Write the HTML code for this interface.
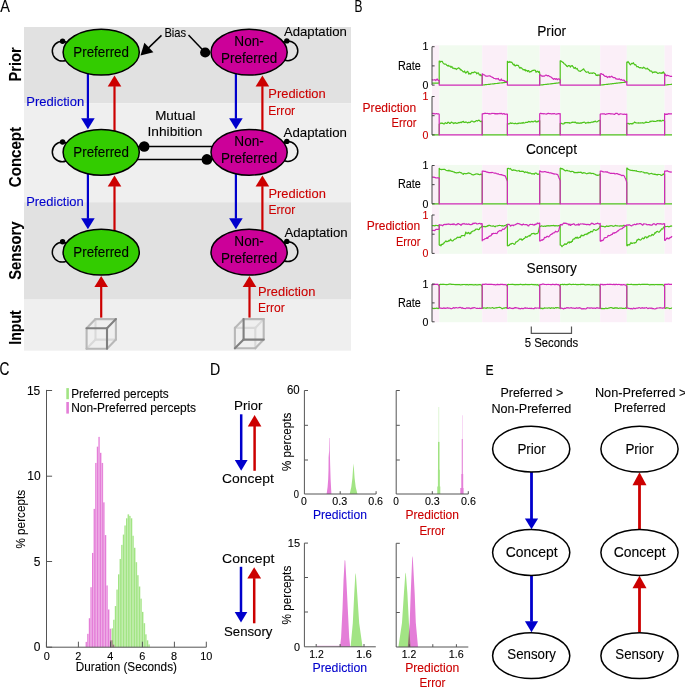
<!DOCTYPE html>
<html><head><meta charset="utf-8"><style>
html,body{margin:0;padding:0;background:#fff;overflow:hidden;}
svg{display:block;font-family:"Liberation Sans",sans-serif;}
</style></head><body>
<svg width="685" height="688" viewBox="0 0 685 688">
<rect x="24.00" y="27.00" width="327.00" height="76.20" fill="#e1e1e1"/>
<rect x="24.00" y="103.20" width="327.00" height="99.00" fill="#efefef"/>
<rect x="24.00" y="202.20" width="327.00" height="97.40" fill="#e1e1e1"/>
<rect x="24.00" y="299.60" width="327.00" height="51.10" fill="#efefef"/>
<text x="0.20" y="11.80" font-size="16.86" font-weight="normal" fill="#000" stroke="#000" stroke-width="0.1" textLength="9.66" lengthAdjust="spacingAndGlyphs">A</text>
<text transform="translate(20.90,81.50) rotate(-90)" x="0" y="0" font-size="15.71" font-weight="bold" fill="#000" stroke="#000" stroke-width="0.1" textLength="34.19" lengthAdjust="spacingAndGlyphs">Prior</text>
<text transform="translate(20.90,187.20) rotate(-90)" x="0" y="0" font-size="15.71" font-weight="bold" fill="#000" stroke="#000" stroke-width="0.1" textLength="60.30" lengthAdjust="spacingAndGlyphs">Concept</text>
<text transform="translate(20.90,279.80) rotate(-90)" x="0" y="0" font-size="15.71" font-weight="bold" fill="#000" stroke="#000" stroke-width="0.1" textLength="58.42" lengthAdjust="spacingAndGlyphs">Sensory</text>
<text transform="translate(20.80,344.80) rotate(-90)" x="0" y="0" font-size="15.71" font-weight="bold" fill="#000" stroke="#000" stroke-width="0.1" textLength="34.58" lengthAdjust="spacingAndGlyphs">Input</text>
<line x1="130.00" y1="146.50" x2="215.00" y2="146.50" stroke="#000" stroke-width="1.5" />
<line x1="130.00" y1="159.40" x2="215.00" y2="159.40" stroke="#000" stroke-width="1.5" />
<line x1="87.90" y1="70.00" x2="87.90" y2="118.70" stroke="#0000cc" stroke-width="2.2" />
<polygon points="81.10,118.20 94.70,118.20 87.90,129.20" fill="#0000cc"/>
<line x1="235.90" y1="70.00" x2="235.90" y2="118.70" stroke="#0000cc" stroke-width="2.2" />
<polygon points="229.10,118.20 242.70,118.20 235.90,129.20" fill="#0000cc"/>
<line x1="114.50" y1="132.00" x2="114.50" y2="86.10" stroke="#cc0000" stroke-width="2.2" />
<polygon points="107.70,86.60 121.30,86.60 114.50,75.60" fill="#cc0000"/>
<line x1="262.40" y1="132.00" x2="262.40" y2="86.10" stroke="#cc0000" stroke-width="2.2" />
<polygon points="255.60,86.60 269.20,86.60 262.40,75.60" fill="#cc0000"/>
<line x1="87.90" y1="170.00" x2="87.90" y2="218.70" stroke="#0000cc" stroke-width="2.2" />
<polygon points="81.10,218.20 94.70,218.20 87.90,229.20" fill="#0000cc"/>
<line x1="235.90" y1="170.00" x2="235.90" y2="218.70" stroke="#0000cc" stroke-width="2.2" />
<polygon points="229.10,218.20 242.70,218.20 235.90,229.20" fill="#0000cc"/>
<line x1="114.50" y1="232.00" x2="114.50" y2="186.10" stroke="#cc0000" stroke-width="2.2" />
<polygon points="107.70,186.60 121.30,186.60 114.50,175.60" fill="#cc0000"/>
<line x1="262.40" y1="232.00" x2="262.40" y2="186.10" stroke="#cc0000" stroke-width="2.2" />
<polygon points="255.60,186.60 269.20,186.60 262.40,175.60" fill="#cc0000"/>
<line x1="101.20" y1="317.60" x2="101.20" y2="286.40" stroke="#cc0000" stroke-width="2.2" />
<polygon points="94.40,286.90 108.00,286.90 101.20,275.90" fill="#cc0000"/>
<line x1="249.50" y1="317.60" x2="249.50" y2="286.40" stroke="#cc0000" stroke-width="2.2" />
<polygon points="242.70,286.90 256.30,286.90 249.50,275.90" fill="#cc0000"/>
<circle cx="62.2" cy="51.10" r="9.9" fill="none" stroke="#000" stroke-width="1.5"/>
<circle cx="287.9" cy="50.80" r="9.9" fill="none" stroke="#000" stroke-width="1.5"/>
<circle cx="62.2" cy="151.90" r="9.9" fill="none" stroke="#000" stroke-width="1.5"/>
<circle cx="287.9" cy="151.50" r="9.9" fill="none" stroke="#000" stroke-width="1.5"/>
<circle cx="62.2" cy="252.20" r="9.9" fill="none" stroke="#000" stroke-width="1.5"/>
<circle cx="287.9" cy="251.70" r="9.9" fill="none" stroke="#000" stroke-width="1.5"/>
<ellipse cx="101.20" cy="52.20" rx="38.10" ry="22.90" fill="#33cc00" stroke="#000" stroke-width="1.5"/>
<ellipse cx="249.10" cy="52.20" rx="38.10" ry="22.90" fill="#cc0099" stroke="#000" stroke-width="1.5"/>
<ellipse cx="101.20" cy="152.30" rx="38.10" ry="22.90" fill="#33cc00" stroke="#000" stroke-width="1.5"/>
<ellipse cx="249.10" cy="152.30" rx="38.10" ry="22.90" fill="#cc0099" stroke="#000" stroke-width="1.5"/>
<ellipse cx="101.20" cy="252.20" rx="38.10" ry="22.90" fill="#33cc00" stroke="#000" stroke-width="1.5"/>
<ellipse cx="249.10" cy="252.20" rx="38.10" ry="22.90" fill="#cc0099" stroke="#000" stroke-width="1.5"/>
<circle cx="62.60" cy="41.20" r="2.70" fill="#000" stroke="none" stroke-width="0"/>
<circle cx="286.80" cy="40.90" r="2.70" fill="#000" stroke="none" stroke-width="0"/>
<circle cx="62.60" cy="142.00" r="2.70" fill="#000" stroke="none" stroke-width="0"/>
<circle cx="286.80" cy="141.40" r="2.70" fill="#000" stroke="none" stroke-width="0"/>
<circle cx="62.60" cy="241.70" r="2.70" fill="#000" stroke="none" stroke-width="0"/>
<circle cx="286.80" cy="241.40" r="2.70" fill="#000" stroke="none" stroke-width="0"/>
<circle cx="144.20" cy="146.50" r="5.30" fill="#000" stroke="none" stroke-width="0"/>
<circle cx="206.90" cy="159.40" r="5.30" fill="#000" stroke="none" stroke-width="0"/>
<text x="164.40" y="36.70" font-size="12.57" font-weight="normal" fill="#000" stroke="#000" stroke-width="0.1" textLength="21.80" lengthAdjust="spacingAndGlyphs">Bias</text>
<line x1="161.50" y1="35.40" x2="148.00" y2="48.40" stroke="#000" stroke-width="1.5" />
<polygon points="140.5,55.5 144.4,42.8 153.4,52.2" fill="#000"/>
<line x1="188.50" y1="35.10" x2="205.20" y2="52.50" stroke="#000" stroke-width="1.5" />
<circle cx="205.20" cy="52.50" r="5.10" fill="#000" stroke="none" stroke-width="0"/>
<text x="73.30" y="56.70" font-size="14.29" font-weight="normal" fill="#000" stroke="#000" stroke-width="0.1" textLength="55.68" lengthAdjust="spacingAndGlyphs">Preferred</text>
<text x="234.30" y="46.00" font-size="14.29" font-weight="normal" fill="#000" stroke="#000" stroke-width="0.1" textLength="29.57" lengthAdjust="spacingAndGlyphs">Non-</text>
<text x="221.00" y="63.10" font-size="14.29" font-weight="normal" fill="#000" stroke="#000" stroke-width="0.1" textLength="56.18" lengthAdjust="spacingAndGlyphs">Preferred</text>
<text x="73.30" y="156.70" font-size="14.29" font-weight="normal" fill="#000" stroke="#000" stroke-width="0.1" textLength="55.68" lengthAdjust="spacingAndGlyphs">Preferred</text>
<text x="234.30" y="146.00" font-size="14.29" font-weight="normal" fill="#000" stroke="#000" stroke-width="0.1" textLength="29.57" lengthAdjust="spacingAndGlyphs">Non-</text>
<text x="221.00" y="163.10" font-size="14.29" font-weight="normal" fill="#000" stroke="#000" stroke-width="0.1" textLength="56.18" lengthAdjust="spacingAndGlyphs">Preferred</text>
<text x="73.30" y="256.70" font-size="14.29" font-weight="normal" fill="#000" stroke="#000" stroke-width="0.1" textLength="55.68" lengthAdjust="spacingAndGlyphs">Preferred</text>
<text x="234.30" y="246.00" font-size="14.29" font-weight="normal" fill="#000" stroke="#000" stroke-width="0.1" textLength="29.57" lengthAdjust="spacingAndGlyphs">Non-</text>
<text x="221.00" y="263.10" font-size="14.29" font-weight="normal" fill="#000" stroke="#000" stroke-width="0.1" textLength="56.18" lengthAdjust="spacingAndGlyphs">Preferred</text>
<text x="283.90" y="36.40" font-size="12.86" font-weight="normal" fill="#000" stroke="#000" stroke-width="0.1" textLength="63.02" lengthAdjust="spacingAndGlyphs">Adaptation</text>
<text x="283.60" y="137.30" font-size="13.43" font-weight="normal" fill="#000" stroke="#000" stroke-width="0.1" textLength="63.32" lengthAdjust="spacingAndGlyphs">Adaptation</text>
<text x="284.40" y="237.20" font-size="13.43" font-weight="normal" fill="#000" stroke="#000" stroke-width="0.1" textLength="63.22" lengthAdjust="spacingAndGlyphs">Adaptation</text>
<text x="155.20" y="119.50" font-size="13.00" font-weight="normal" fill="#000" stroke="#000" stroke-width="0.1" textLength="40.32" lengthAdjust="spacingAndGlyphs">Mutual</text>
<text x="147.50" y="135.70" font-size="13.00" font-weight="normal" fill="#000" stroke="#000" stroke-width="0.1" textLength="54.97" lengthAdjust="spacingAndGlyphs">Inhibition</text>
<text x="26.30" y="106.00" font-size="13.14" font-weight="normal" fill="#0000cc" stroke="#0000cc" stroke-width="0.1" textLength="57.83" lengthAdjust="spacingAndGlyphs">Prediction</text>
<text x="26.20" y="206.40" font-size="13.14" font-weight="normal" fill="#0000cc" stroke="#0000cc" stroke-width="0.1" textLength="57.53" lengthAdjust="spacingAndGlyphs">Prediction</text>
<text x="268.30" y="98.40" font-size="13.14" font-weight="normal" fill="#cc0000" stroke="#cc0000" stroke-width="0.1" textLength="57.43" lengthAdjust="spacingAndGlyphs">Prediction</text>
<text x="268.30" y="114.50" font-size="13.14" font-weight="normal" fill="#cc0000" stroke="#cc0000" stroke-width="0.1" textLength="26.83" lengthAdjust="spacingAndGlyphs">Error</text>
<text x="268.40" y="197.90" font-size="13.14" font-weight="normal" fill="#cc0000" stroke="#cc0000" stroke-width="0.1" textLength="57.43" lengthAdjust="spacingAndGlyphs">Prediction</text>
<text x="268.40" y="214.30" font-size="13.14" font-weight="normal" fill="#cc0000" stroke="#cc0000" stroke-width="0.1" textLength="26.83" lengthAdjust="spacingAndGlyphs">Error</text>
<text x="257.90" y="296.10" font-size="13.14" font-weight="normal" fill="#cc0000" stroke="#cc0000" stroke-width="0.1" textLength="57.43" lengthAdjust="spacingAndGlyphs">Prediction</text>
<text x="257.90" y="312.30" font-size="13.14" font-weight="normal" fill="#cc0000" stroke="#cc0000" stroke-width="0.1" textLength="26.83" lengthAdjust="spacingAndGlyphs">Error</text>
<line x1="95.50" y1="319.10" x2="95.50" y2="339.60" stroke="#d9d9d9" stroke-width="2.1" stroke-linecap="round"/>
<line x1="95.50" y1="339.60" x2="115.90" y2="339.60" stroke="#d9d9d9" stroke-width="2.1" stroke-linecap="round"/>
<line x1="86.60" y1="348.70" x2="95.50" y2="339.60" stroke="#d9d9d9" stroke-width="2.1" stroke-linecap="round"/>
<line x1="86.60" y1="328.20" x2="86.60" y2="348.70" stroke="#b8b8b8" stroke-width="2.1" stroke-linecap="round"/>
<line x1="86.60" y1="348.70" x2="107.00" y2="348.70" stroke="#b8b8b8" stroke-width="2.1" stroke-linecap="round"/>
<line x1="95.50" y1="319.10" x2="115.90" y2="319.10" stroke="#b8b8b8" stroke-width="2.1" stroke-linecap="round"/>
<line x1="115.90" y1="319.10" x2="115.90" y2="339.60" stroke="#b8b8b8" stroke-width="2.1" stroke-linecap="round"/>
<line x1="86.60" y1="328.20" x2="95.50" y2="319.10" stroke="#b8b8b8" stroke-width="2.1" stroke-linecap="round"/>
<line x1="107.00" y1="348.70" x2="115.90" y2="339.60" stroke="#b8b8b8" stroke-width="2.1" stroke-linecap="round"/>
<line x1="86.60" y1="328.20" x2="107.00" y2="328.20" stroke="#808080" stroke-width="2.1" stroke-linecap="round"/>
<line x1="107.00" y1="328.20" x2="107.00" y2="348.70" stroke="#808080" stroke-width="2.1" stroke-linecap="round"/>
<line x1="107.00" y1="328.20" x2="115.90" y2="319.10" stroke="#808080" stroke-width="2.1" stroke-linecap="round"/>
<line x1="234.90" y1="327.90" x2="255.30" y2="327.90" stroke="#d9d9d9" stroke-width="2.1" stroke-linecap="round"/>
<line x1="255.30" y1="327.90" x2="255.30" y2="348.30" stroke="#d9d9d9" stroke-width="2.1" stroke-linecap="round"/>
<line x1="255.30" y1="327.90" x2="263.70" y2="319.10" stroke="#d9d9d9" stroke-width="2.1" stroke-linecap="round"/>
<line x1="243.60" y1="319.10" x2="263.70" y2="319.10" stroke="#b8b8b8" stroke-width="2.1" stroke-linecap="round"/>
<line x1="263.70" y1="319.10" x2="263.70" y2="339.60" stroke="#b8b8b8" stroke-width="2.1" stroke-linecap="round"/>
<line x1="243.60" y1="319.10" x2="234.90" y2="327.90" stroke="#b8b8b8" stroke-width="2.1" stroke-linecap="round"/>
<line x1="234.90" y1="327.90" x2="234.90" y2="348.30" stroke="#b8b8b8" stroke-width="2.1" stroke-linecap="round"/>
<line x1="234.90" y1="348.30" x2="255.30" y2="348.30" stroke="#b8b8b8" stroke-width="2.1" stroke-linecap="round"/>
<line x1="255.30" y1="348.30" x2="263.70" y2="339.60" stroke="#b8b8b8" stroke-width="2.1" stroke-linecap="round"/>
<line x1="243.60" y1="319.10" x2="243.60" y2="339.60" stroke="#808080" stroke-width="2.1" stroke-linecap="round"/>
<line x1="243.60" y1="339.60" x2="263.70" y2="339.60" stroke="#808080" stroke-width="2.1" stroke-linecap="round"/>
<line x1="243.60" y1="339.60" x2="234.90" y2="348.30" stroke="#808080" stroke-width="2.1" stroke-linecap="round"/>
<text x="354.60" y="12.00" font-size="17.14" font-weight="normal" fill="#000" stroke="#000" stroke-width="0.1" textLength="7.92" lengthAdjust="spacingAndGlyphs">B</text>
<text x="537.23" y="36.00" font-size="13.71" font-weight="normal" fill="#000" stroke="#000" stroke-width="0.1" textLength="28.96" lengthAdjust="spacingAndGlyphs">Prior</text>
<text x="525.96" y="154.40" font-size="13.71" font-weight="normal" fill="#000" stroke="#000" stroke-width="0.1" textLength="51.08" lengthAdjust="spacingAndGlyphs">Concept</text>
<text x="526.53" y="272.50" font-size="13.71" font-weight="normal" fill="#000" stroke="#000" stroke-width="0.1" textLength="50.31" lengthAdjust="spacingAndGlyphs">Sensory</text>
<rect x="432.00" y="45.30" width="7.20" height="90.30" fill="#fbeff8"/>
<rect x="439.20" y="45.30" width="43.00" height="90.30" fill="#f1fbef"/>
<rect x="482.20" y="45.30" width="25.20" height="90.30" fill="#fbeff8"/>
<rect x="507.40" y="45.30" width="32.30" height="90.30" fill="#f1fbef"/>
<rect x="539.70" y="45.30" width="20.50" height="90.30" fill="#fbeff8"/>
<rect x="560.20" y="45.30" width="40.00" height="90.30" fill="#f1fbef"/>
<rect x="600.20" y="45.30" width="26.60" height="90.30" fill="#fbeff8"/>
<rect x="626.80" y="45.30" width="37.80" height="90.30" fill="#f1fbef"/>
<rect x="664.60" y="45.30" width="7.40" height="90.30" fill="#fbeff8"/>
<rect x="432.00" y="164.90" width="7.20" height="88.90" fill="#fbeff8"/>
<rect x="439.20" y="164.90" width="43.00" height="88.90" fill="#f1fbef"/>
<rect x="482.20" y="164.90" width="25.20" height="88.90" fill="#fbeff8"/>
<rect x="507.40" y="164.90" width="32.30" height="88.90" fill="#f1fbef"/>
<rect x="539.70" y="164.90" width="20.50" height="88.90" fill="#fbeff8"/>
<rect x="560.20" y="164.90" width="40.00" height="88.90" fill="#f1fbef"/>
<rect x="600.20" y="164.90" width="26.60" height="88.90" fill="#fbeff8"/>
<rect x="626.80" y="164.90" width="37.80" height="88.90" fill="#f1fbef"/>
<rect x="664.60" y="164.90" width="7.40" height="88.90" fill="#fbeff8"/>
<rect x="432.00" y="283.10" width="7.20" height="39.10" fill="#fbeff8"/>
<rect x="439.20" y="283.10" width="43.00" height="39.10" fill="#f1fbef"/>
<rect x="482.20" y="283.10" width="25.20" height="39.10" fill="#fbeff8"/>
<rect x="507.40" y="283.10" width="32.30" height="39.10" fill="#f1fbef"/>
<rect x="539.70" y="283.10" width="20.50" height="39.10" fill="#fbeff8"/>
<rect x="560.20" y="283.10" width="40.00" height="39.10" fill="#f1fbef"/>
<rect x="600.20" y="283.10" width="26.60" height="39.10" fill="#fbeff8"/>
<rect x="626.80" y="283.10" width="37.80" height="39.10" fill="#f1fbef"/>
<rect x="664.60" y="283.10" width="7.40" height="39.10" fill="#fbeff8"/>
<polyline points="432.0,83.2 432.7,83.2 433.3,83.2 434.0,83.2 434.6,83.2 435.3,83.2 435.9,83.2 436.6,83.2 437.2,83.2 437.9,83.2 438.5,83.2 439.2,83.2 439.2,61.1 439.8,61.2 440.4,62.1 441.0,61.3 441.6,61.5 442.2,61.4 442.8,62.5 443.4,63.4 444.0,63.9 444.7,64.2 445.3,64.0 445.9,64.2 446.5,64.8 447.1,65.6 447.7,66.0 448.3,65.3 448.9,66.1 449.5,66.1 450.1,66.0 450.7,67.2 451.3,67.2 451.9,66.5 452.5,68.1 453.1,68.2 453.7,68.2 454.3,68.7 454.9,68.4 455.6,68.5 456.2,69.5 456.8,68.9 457.4,68.6 458.0,68.2 458.6,67.8 459.2,68.2 459.8,68.6 460.4,69.9 461.0,69.6 461.6,70.3 462.2,70.7 462.8,71.5 463.4,71.9 464.0,72.0 464.6,71.0 465.2,72.4 465.8,73.1 466.5,72.5 467.1,71.5 467.7,71.3 468.3,72.7 468.9,74.2 469.5,73.4 470.1,73.7 470.7,74.1 471.3,73.1 471.9,72.4 472.5,72.6 473.1,72.6 473.7,72.6 474.3,71.9 474.9,72.1 475.5,72.3 476.1,72.4 476.7,73.9 477.4,73.2 478.0,72.9 478.6,73.1 479.2,74.7 479.8,75.1 480.4,74.5 481.0,75.7 481.6,75.6 482.2,74.8 482.2,85.1 482.8,85.0 483.4,85.0 484.0,84.9 484.7,84.8 485.3,84.7 485.9,84.7 486.5,84.6 487.1,84.5 487.7,84.5 488.3,84.4 489.0,84.3 489.6,84.3 490.2,84.2 490.8,84.1 491.4,84.0 492.0,84.0 492.6,83.9 493.3,83.8 493.9,83.8 494.5,83.7 495.1,83.6 495.7,83.5 496.3,83.5 497.0,83.4 497.6,83.3 498.2,83.3 498.8,83.2 499.4,83.1 500.0,83.0 500.6,83.0 501.3,82.9 501.9,82.8 502.5,82.8 503.1,82.7 503.7,82.6 504.3,82.6 504.9,82.5 505.6,82.4 506.2,82.3 506.8,82.3 507.4,82.2 507.4,61.4 508.0,61.7 508.6,62.4 509.2,62.4 509.8,61.5 510.4,62.1 511.1,62.3 511.7,62.2 512.3,63.0 512.9,64.2 513.5,64.8 514.1,64.2 514.7,65.6 515.3,66.0 515.9,65.3 516.5,65.1 517.2,65.4 517.8,65.3 518.4,65.6 519.0,66.8 519.6,67.9 520.2,68.2 520.8,67.4 521.4,67.9 522.0,68.5 522.6,68.9 523.2,69.8 523.9,69.5 524.5,70.1 525.1,69.5 525.7,70.9 526.3,70.3 526.9,70.5 527.5,71.5 528.1,70.6 528.7,70.6 529.3,71.9 529.9,72.1 530.6,71.5 531.2,71.6 531.8,70.9 532.4,70.6 533.0,70.4 533.6,70.5 534.2,70.0 534.8,70.2 535.4,70.4 536.0,72.2 536.7,71.7 537.3,71.1 537.9,71.7 538.5,72.3 539.1,71.3 539.7,72.9 539.7,85.1 540.3,85.0 540.9,85.0 541.5,84.9 542.1,84.8 542.7,84.8 543.3,84.7 543.9,84.6 544.5,84.5 545.1,84.5 545.7,84.4 546.3,84.3 546.9,84.3 547.5,84.2 548.1,84.1 548.7,84.1 549.3,84.0 550.0,83.9 550.6,83.8 551.2,83.8 551.8,83.7 552.4,83.6 553.0,83.6 553.6,83.5 554.2,83.4 554.8,83.4 555.4,83.3 556.0,83.2 556.6,83.2 557.2,83.1 557.8,83.0 558.4,82.9 559.0,82.9 559.6,82.8 560.2,82.7 560.2,60.8 560.8,60.9 561.4,61.3 562.0,61.8 562.6,62.3 563.2,62.3 563.8,63.4 564.4,64.0 565.0,64.1 565.7,65.1 566.3,65.3 566.9,66.5 567.5,66.6 568.1,65.9 568.7,65.6 569.3,65.7 569.9,66.1 570.5,67.1 571.1,65.9 571.7,65.9 572.3,65.6 572.9,66.7 573.5,67.1 574.1,68.5 574.7,67.9 575.4,67.4 576.0,68.9 576.6,68.9 577.2,68.5 577.8,69.7 578.4,70.7 579.0,71.0 579.6,71.0 580.2,71.5 580.8,71.0 581.4,70.6 582.0,70.1 582.6,69.8 583.2,69.1 583.8,68.9 584.4,70.4 585.0,70.9 585.7,71.7 586.3,72.3 586.9,72.1 587.5,72.0 588.1,71.7 588.7,72.8 589.3,73.4 589.9,73.1 590.5,73.0 591.1,73.1 591.7,73.1 592.3,73.5 592.9,72.9 593.5,72.8 594.1,73.0 594.7,73.5 595.4,73.7 596.0,75.3 596.6,75.5 597.2,75.0 597.8,75.6 598.4,75.1 599.0,74.8 599.6,75.5 600.2,75.4 600.2,85.1 600.8,85.0 601.4,85.0 602.0,84.9 602.6,84.8 603.2,84.8 603.8,84.7 604.4,84.6 605.0,84.5 605.6,84.5 606.2,84.4 606.9,84.3 607.5,84.3 608.1,84.2 608.7,84.1 609.3,84.1 609.9,84.0 610.5,83.9 611.1,83.8 611.7,83.8 612.3,83.7 612.9,83.6 613.5,83.6 614.1,83.5 614.7,83.4 615.3,83.4 615.9,83.3 616.5,83.2 617.1,83.1 617.7,83.1 618.3,83.0 618.9,82.9 619.5,82.9 620.1,82.8 620.8,82.7 621.4,82.7 622.0,82.6 622.6,82.5 623.2,82.5 623.8,82.4 624.4,82.3 625.0,82.2 625.6,82.2 626.2,82.1 626.8,82.0 626.8,62.2 627.4,62.4 628.0,61.5 628.6,62.3 629.2,63.2 629.8,64.1 630.4,64.8 631.0,64.3 631.6,63.3 632.2,63.4 632.8,63.7 633.4,62.7 634.0,63.8 634.6,64.8 635.2,64.7 635.8,64.8 636.4,65.9 637.0,66.8 637.6,66.6 638.2,66.5 638.8,67.5 639.4,67.6 640.0,67.9 640.6,67.6 641.2,67.8 641.8,68.0 642.4,68.3 643.0,67.8 643.6,67.2 644.2,68.0 644.8,67.8 645.4,68.8 646.0,69.0 646.6,68.7 647.2,68.2 647.8,69.0 648.4,69.4 649.0,69.6 649.6,70.8 650.2,70.8 650.8,71.2 651.4,71.0 652.0,71.7 652.6,72.9 653.2,72.4 653.8,72.1 654.4,72.3 655.0,71.7 655.6,72.0 656.2,72.5 656.8,72.2 657.4,73.2 658.0,73.5 658.6,73.3 659.2,72.7 659.8,72.9 660.4,72.8 661.0,73.4 661.6,73.2 662.2,72.3 662.8,73.2 663.4,71.9 664.0,72.9 664.6,73.3 664.6,85.1 665.2,85.0 665.8,85.0 666.5,84.9 667.1,84.8 667.7,84.7 668.3,84.7 668.9,84.6 669.5,84.5 670.1,84.5 670.8,84.4 671.4,84.3 672.0,84.2" fill="none" stroke="#4ec41c" stroke-width="1.2" stroke-linejoin="round"/>
<polyline points="432.0,80.3 432.7,79.7 433.3,80.0 434.0,80.0 434.6,79.7 435.3,79.8 435.9,80.5 436.6,79.5 437.2,79.0 437.9,80.2 438.5,80.3 439.2,80.2 439.2,85.1 439.8,85.1 440.4,85.1 441.0,85.1 441.6,85.1 442.2,85.1 442.8,85.1 443.4,85.1 444.0,85.1 444.7,85.1 445.3,85.1 445.9,85.1 446.5,85.1 447.1,85.1 447.7,85.1 448.3,85.1 448.9,85.1 449.5,85.1 450.1,85.1 450.7,85.1 451.3,85.1 451.9,85.1 452.5,85.1 453.1,85.1 453.7,85.1 454.3,85.1 454.9,85.1 455.6,85.1 456.2,85.1 456.8,85.1 457.4,85.1 458.0,85.1 458.6,85.1 459.2,85.1 459.8,85.1 460.4,85.1 461.0,85.1 461.6,85.1 462.2,85.1 462.8,85.1 463.4,85.1 464.0,85.1 464.6,85.1 465.2,85.1 465.8,85.1 466.5,85.1 467.1,85.1 467.7,85.1 468.3,85.1 468.9,85.1 469.5,85.1 470.1,85.1 470.7,85.1 471.3,85.1 471.9,85.1 472.5,85.1 473.1,85.1 473.7,85.1 474.3,85.1 474.9,85.1 475.5,85.1 476.1,85.1 476.7,85.1 477.4,85.1 478.0,85.1 478.6,85.1 479.2,85.1 479.8,85.1 480.4,85.1 481.0,85.1 481.6,85.1 482.2,85.1 482.2,73.8 482.8,74.1 483.4,74.7 484.0,74.8 484.7,75.0 485.3,75.8 485.9,76.1 486.5,76.0 487.1,76.2 487.7,76.2 488.3,76.0 489.0,75.9 489.6,75.9 490.2,76.0 490.8,76.5 491.4,76.8 492.0,77.1 492.6,77.4 493.3,77.7 493.9,78.5 494.5,78.5 495.1,78.5 495.7,78.9 496.3,78.9 497.0,78.7 497.6,78.9 498.2,78.3 498.8,79.7 499.4,79.8 500.0,80.5 500.6,80.0 501.3,79.0 501.9,80.4 502.5,80.4 503.1,80.3 503.7,80.6 504.3,80.6 504.9,81.7 505.6,81.3 506.2,81.3 506.8,81.4 507.4,81.8 507.4,85.1 508.0,85.1 508.6,85.1 509.2,85.1 509.8,85.1 510.4,85.1 511.1,85.1 511.7,85.1 512.3,85.1 512.9,85.1 513.5,85.1 514.1,85.1 514.7,85.1 515.3,85.1 515.9,85.1 516.5,85.1 517.2,85.1 517.8,85.1 518.4,85.1 519.0,85.1 519.6,85.1 520.2,85.1 520.8,85.1 521.4,85.1 522.0,85.1 522.6,85.1 523.2,85.1 523.9,85.1 524.5,85.1 525.1,85.1 525.7,85.1 526.3,85.1 526.9,85.1 527.5,85.1 528.1,85.1 528.7,85.1 529.3,85.1 529.9,85.1 530.6,85.1 531.2,85.1 531.8,85.1 532.4,85.1 533.0,85.1 533.6,85.1 534.2,85.1 534.8,85.1 535.4,85.1 536.0,85.1 536.7,85.1 537.3,85.1 537.9,85.1 538.5,85.1 539.1,85.1 539.7,85.1 539.7,75.1 540.3,74.9 540.9,75.2 541.5,75.9 542.1,76.4 542.7,75.9 543.3,76.2 543.9,76.2 544.5,76.1 545.1,75.6 545.7,75.1 546.3,75.2 546.9,75.6 547.5,76.0 548.1,75.6 548.7,75.6 549.3,76.3 550.0,76.6 550.6,76.8 551.2,77.2 551.8,77.7 552.4,78.4 553.0,78.7 553.6,79.3 554.2,78.7 554.8,78.6 555.4,79.3 556.0,78.8 556.6,78.7 557.2,79.8 557.8,79.1 558.4,79.1 559.0,78.7 559.6,79.7 560.2,79.8 560.2,85.1 560.8,85.1 561.4,85.1 562.0,85.1 562.6,85.1 563.2,85.1 563.8,85.1 564.4,85.1 565.0,85.1 565.7,85.1 566.3,85.1 566.9,85.1 567.5,85.1 568.1,85.1 568.7,85.1 569.3,85.1 569.9,85.1 570.5,85.1 571.1,85.1 571.7,85.1 572.3,85.1 572.9,85.1 573.5,85.1 574.1,85.1 574.7,85.1 575.4,85.1 576.0,85.1 576.6,85.1 577.2,85.1 577.8,85.1 578.4,85.1 579.0,85.1 579.6,85.1 580.2,85.1 580.8,85.1 581.4,85.1 582.0,85.1 582.6,85.1 583.2,85.1 583.8,85.1 584.4,85.1 585.0,85.1 585.7,85.1 586.3,85.1 586.9,85.1 587.5,85.1 588.1,85.1 588.7,85.1 589.3,85.1 589.9,85.1 590.5,85.1 591.1,85.1 591.7,85.1 592.3,85.1 592.9,85.1 593.5,85.1 594.1,85.1 594.7,85.1 595.4,85.1 596.0,85.1 596.6,85.1 597.2,85.1 597.8,85.1 598.4,85.1 599.0,85.1 599.6,85.1 600.2,85.1 600.2,74.0 600.8,73.7 601.4,73.7 602.0,74.3 602.6,74.3 603.2,74.4 603.8,75.4 604.4,75.7 605.0,76.4 605.6,76.4 606.2,76.2 606.9,76.8 607.5,77.6 608.1,76.9 608.7,76.9 609.3,76.4 609.9,77.3 610.5,77.0 611.1,76.5 611.7,76.2 612.3,76.9 612.9,77.2 613.5,77.7 614.1,77.6 614.7,77.6 615.3,78.0 615.9,78.9 616.5,78.8 617.1,79.2 617.7,79.2 618.3,79.3 618.9,78.9 619.5,78.9 620.1,79.6 620.8,79.8 621.4,79.4 622.0,80.1 622.6,80.3 623.2,80.1 623.8,80.1 624.4,80.4 625.0,81.3 625.6,82.0 626.2,81.8 626.8,81.6 626.8,85.1 627.4,85.1 628.0,85.1 628.6,85.1 629.2,85.1 629.8,85.1 630.4,85.1 631.0,85.1 631.6,85.1 632.2,85.1 632.8,85.1 633.4,85.1 634.0,85.1 634.6,85.1 635.2,85.1 635.8,85.1 636.4,85.1 637.0,85.1 637.6,85.1 638.2,85.1 638.8,85.1 639.4,85.1 640.0,85.1 640.6,85.1 641.2,85.1 641.8,85.1 642.4,85.1 643.0,85.1 643.6,85.1 644.2,85.1 644.8,85.1 645.4,85.1 646.0,85.1 646.6,85.1 647.2,85.1 647.8,85.1 648.4,85.1 649.0,85.1 649.6,85.1 650.2,85.1 650.8,85.1 651.4,85.1 652.0,85.1 652.6,85.1 653.2,85.1 653.8,85.1 654.4,85.1 655.0,85.1 655.6,85.1 656.2,85.1 656.8,85.1 657.4,85.1 658.0,85.1 658.6,85.1 659.2,85.1 659.8,85.1 660.4,85.1 661.0,85.1 661.6,85.1 662.2,85.1 662.8,85.1 663.4,85.1 664.0,85.1 664.6,85.1 664.6,74.0 665.2,74.2 665.8,75.3 666.5,75.8 667.1,75.2 667.7,75.4 668.3,75.7 668.9,75.7 669.5,76.0 670.1,76.3 670.8,76.3 671.4,76.4 672.0,76.0" fill="none" stroke="#d02ab8" stroke-width="1.2" stroke-linejoin="round"/>
<line x1="432.00" y1="46.70" x2="432.00" y2="85.10" stroke="#444" stroke-width="1" />
<line x1="432.00" y1="46.70" x2="434.60" y2="46.70" stroke="#444" stroke-width="1" />
<line x1="432.00" y1="65.90" x2="434.60" y2="65.90" stroke="#444" stroke-width="1" />
<line x1="432.00" y1="85.10" x2="434.60" y2="85.10" stroke="#444" stroke-width="1" />
<text x="428.30" y="50.40" font-size="10.60" fill="#000" stroke="#000" stroke-width="0.1" text-anchor="end">1</text>
<text x="428.30" y="88.90" font-size="10.60" fill="#000" stroke="#000" stroke-width="0.1" text-anchor="end">0</text>
<text x="397.90" y="69.60" font-size="12.00" font-weight="normal" fill="#000" stroke="#000" stroke-width="0.1" textLength="22.93" lengthAdjust="spacingAndGlyphs">Rate</text>
<polyline points="432.0,134.9 432.7,134.9 433.3,134.9 434.0,134.9 434.6,134.9 435.3,134.9 435.9,134.9 436.6,134.9 437.2,134.9 437.9,134.9 438.5,134.9 439.2,134.9 439.2,124.3 439.8,123.9 440.4,123.4 441.0,122.9 441.6,123.4 442.2,123.0 442.8,123.4 443.4,123.7 444.0,124.1 444.7,123.4 445.3,122.7 445.9,123.1 446.5,123.4 447.1,123.4 447.7,122.4 448.3,122.2 448.9,122.6 449.5,123.4 450.1,123.5 450.7,122.8 451.3,122.1 451.9,122.4 452.5,122.8 453.1,122.9 453.7,123.6 454.3,122.9 454.9,123.2 455.6,122.6 456.2,123.2 456.8,123.4 457.4,123.0 458.0,123.1 458.6,122.5 459.2,122.4 459.8,122.8 460.4,122.4 461.0,122.0 461.6,122.7 462.2,121.8 462.8,121.7 463.4,121.4 464.0,122.3 464.6,122.4 465.2,122.4 465.8,121.8 466.5,122.3 467.1,122.5 467.7,123.0 468.3,122.6 468.9,122.2 469.5,122.6 470.1,122.5 470.7,122.0 471.3,121.2 471.9,121.0 472.5,121.2 473.1,121.6 473.7,121.9 474.3,121.9 474.9,121.6 475.5,121.5 476.1,120.7 476.7,120.7 477.4,121.1 478.0,120.5 478.6,120.2 479.2,120.3 479.8,120.8 480.4,121.5 481.0,121.7 481.6,121.1 482.2,121.4 482.2,134.9 482.8,134.9 483.4,134.9 484.0,134.9 484.7,134.9 485.3,134.9 485.9,134.9 486.5,134.9 487.1,134.9 487.7,134.9 488.3,134.9 489.0,134.9 489.6,134.9 490.2,134.9 490.8,134.9 491.4,134.9 492.0,134.9 492.6,134.9 493.3,134.9 493.9,134.9 494.5,134.9 495.1,134.9 495.7,134.9 496.3,134.9 497.0,134.9 497.6,134.9 498.2,134.9 498.8,134.9 499.4,134.9 500.0,134.9 500.6,134.9 501.3,134.9 501.9,134.9 502.5,134.9 503.1,134.9 503.7,134.9 504.3,134.9 504.9,134.9 505.6,134.9 506.2,134.9 506.8,134.9 507.4,134.9 507.4,123.5 508.0,123.7 508.6,123.9 509.2,123.8 509.8,123.5 510.4,122.9 511.1,123.1 511.7,123.4 512.3,123.2 512.9,123.2 513.5,123.5 514.1,123.7 514.7,123.6 515.3,123.2 515.9,123.6 516.5,123.8 517.2,123.4 517.8,123.7 518.4,123.4 519.0,123.1 519.6,123.0 520.2,123.3 520.8,123.2 521.4,123.1 522.0,122.9 522.6,123.1 523.2,122.5 523.9,123.1 524.5,123.0 525.1,122.8 525.7,122.3 526.3,122.5 526.9,122.2 527.5,122.5 528.1,122.1 528.7,121.4 529.3,121.8 529.9,121.7 530.6,122.1 531.2,121.7 531.8,121.3 532.4,121.5 533.0,122.0 533.6,121.8 534.2,121.3 534.8,121.0 535.4,120.9 536.0,121.8 536.7,122.0 537.3,121.3 537.9,121.8 538.5,121.3 539.1,120.6 539.7,120.5 539.7,134.9 540.3,134.9 540.9,134.9 541.5,134.9 542.1,134.9 542.7,134.9 543.3,134.9 543.9,134.9 544.5,134.9 545.1,134.9 545.7,134.9 546.3,134.9 546.9,134.9 547.5,134.9 548.1,134.9 548.7,134.9 549.3,134.9 550.0,134.9 550.6,134.9 551.2,134.9 551.8,134.9 552.4,134.9 553.0,134.9 553.6,134.9 554.2,134.9 554.8,134.9 555.4,134.9 556.0,134.9 556.6,134.9 557.2,134.9 557.8,134.9 558.4,134.9 559.0,134.9 559.6,134.9 560.2,134.9 560.2,123.4 560.8,123.4 561.4,123.3 562.0,123.6 562.6,124.0 563.2,124.0 563.8,124.0 564.4,122.7 565.0,123.1 565.7,122.5 566.3,122.6 566.9,122.7 567.5,122.5 568.1,123.0 568.7,122.7 569.3,122.6 569.9,123.3 570.5,123.0 571.1,122.7 571.7,122.6 572.3,122.0 572.9,122.4 573.5,122.3 574.1,122.1 574.7,122.6 575.4,122.1 576.0,122.8 576.6,123.2 577.2,122.8 577.8,123.1 578.4,122.9 579.0,123.4 579.6,123.0 580.2,123.2 580.8,122.8 581.4,123.2 582.0,122.7 582.6,122.6 583.2,122.4 583.8,122.3 584.4,122.1 585.0,122.6 585.7,123.3 586.3,122.8 586.9,122.9 587.5,122.7 588.1,122.2 588.7,122.8 589.3,122.7 589.9,122.6 590.5,122.7 591.1,122.2 591.7,122.0 592.3,122.1 592.9,122.3 593.5,121.6 594.1,121.8 594.7,121.4 595.4,121.1 596.0,121.8 596.6,122.0 597.2,121.7 597.8,121.4 598.4,120.9 599.0,120.6 599.6,120.3 600.2,120.6 600.2,134.9 600.8,134.9 601.4,134.9 602.0,134.9 602.6,134.9 603.2,134.9 603.8,134.9 604.4,134.9 605.0,134.9 605.6,134.9 606.2,134.9 606.9,134.9 607.5,134.9 608.1,134.9 608.7,134.9 609.3,134.9 609.9,134.9 610.5,134.9 611.1,134.9 611.7,134.9 612.3,134.9 612.9,134.9 613.5,134.9 614.1,134.9 614.7,134.9 615.3,134.9 615.9,134.9 616.5,134.9 617.1,134.9 617.7,134.9 618.3,134.9 618.9,134.9 619.5,134.9 620.1,134.9 620.8,134.9 621.4,134.9 622.0,134.9 622.6,134.9 623.2,134.9 623.8,134.9 624.4,134.9 625.0,134.9 625.6,134.9 626.2,134.9 626.8,134.9 626.8,123.5 627.4,123.4 628.0,123.3 628.6,123.6 629.2,124.2 629.8,123.7 630.4,123.6 631.0,123.7 631.6,124.0 632.2,123.3 632.8,123.9 633.4,123.0 634.0,122.8 634.6,122.0 635.2,122.6 635.8,122.7 636.4,123.0 637.0,122.9 637.6,123.0 638.2,123.2 638.8,122.7 639.4,123.0 640.0,123.1 640.6,122.8 641.2,122.9 641.8,123.0 642.4,122.7 643.0,122.8 643.6,123.2 644.2,123.0 644.8,122.9 645.4,122.1 646.0,122.5 646.6,122.1 647.2,122.4 647.8,122.5 648.4,122.5 649.0,122.3 649.6,121.9 650.2,121.2 650.8,121.7 651.4,121.2 652.0,121.0 652.6,121.0 653.2,121.5 653.8,121.2 654.4,121.4 655.0,121.3 655.6,121.5 656.2,121.3 656.8,120.9 657.4,120.6 658.0,121.0 658.6,120.7 659.2,120.3 659.8,121.0 660.4,120.5 661.0,121.2 661.6,121.0 662.2,120.8 662.8,120.3 663.4,120.4 664.0,120.8 664.6,121.1 664.6,134.9 665.2,134.9 665.8,134.9 666.5,134.9 667.1,134.9 667.7,134.9 668.3,134.9 668.9,134.9 669.5,134.9 670.1,134.9 670.8,134.9 671.4,134.9 672.0,134.9" fill="none" stroke="#4ec41c" stroke-width="1.2" stroke-linejoin="round"/>
<polyline points="432.0,113.6 432.7,113.4 433.3,113.7 434.0,113.4 434.6,113.9 435.3,114.0 435.9,113.7 436.6,113.5 437.2,113.8 437.9,113.9 438.5,113.8 439.2,114.2 439.2,134.9 439.8,134.9 440.4,134.9 441.0,134.9 441.6,134.9 442.2,134.9 442.8,134.9 443.4,134.9 444.0,134.9 444.7,134.9 445.3,134.9 445.9,134.9 446.5,134.9 447.1,134.9 447.7,134.9 448.3,134.9 448.9,134.9 449.5,134.9 450.1,134.9 450.7,134.9 451.3,134.9 451.9,134.9 452.5,134.9 453.1,134.9 453.7,134.9 454.3,134.9 454.9,134.9 455.6,134.9 456.2,134.9 456.8,134.9 457.4,134.9 458.0,134.9 458.6,134.9 459.2,134.9 459.8,134.9 460.4,134.9 461.0,134.9 461.6,134.9 462.2,134.9 462.8,134.9 463.4,134.9 464.0,134.9 464.6,134.9 465.2,134.9 465.8,134.9 466.5,134.9 467.1,134.9 467.7,134.9 468.3,134.9 468.9,134.9 469.5,134.9 470.1,134.9 470.7,134.9 471.3,134.9 471.9,134.9 472.5,134.9 473.1,134.9 473.7,134.9 474.3,134.9 474.9,134.9 475.5,134.9 476.1,134.9 476.7,134.9 477.4,134.9 478.0,134.9 478.6,134.9 479.2,134.9 479.8,134.9 480.4,134.9 481.0,134.9 481.6,134.9 482.2,134.9 482.2,113.8 482.8,113.9 483.4,113.5 484.0,113.6 484.7,113.3 485.3,113.2 485.9,113.5 486.5,113.5 487.1,113.3 487.7,113.5 488.3,113.6 489.0,113.8 489.6,113.7 490.2,113.8 490.8,113.8 491.4,113.6 492.0,113.3 492.6,113.4 493.3,113.5 493.9,113.4 494.5,113.6 495.1,113.9 495.7,113.6 496.3,113.9 497.0,113.6 497.6,113.9 498.2,113.5 498.8,113.8 499.4,113.6 500.0,113.3 500.6,113.7 501.3,113.4 501.9,113.7 502.5,114.1 503.1,113.8 503.7,113.7 504.3,113.7 504.9,114.3 505.6,114.2 506.2,114.1 506.8,114.1 507.4,114.1 507.4,134.9 508.0,134.9 508.6,134.9 509.2,134.9 509.8,134.9 510.4,134.9 511.1,134.9 511.7,134.9 512.3,134.9 512.9,134.9 513.5,134.9 514.1,134.9 514.7,134.9 515.3,134.9 515.9,134.9 516.5,134.9 517.2,134.9 517.8,134.9 518.4,134.9 519.0,134.9 519.6,134.9 520.2,134.9 520.8,134.9 521.4,134.9 522.0,134.9 522.6,134.9 523.2,134.9 523.9,134.9 524.5,134.9 525.1,134.9 525.7,134.9 526.3,134.9 526.9,134.9 527.5,134.9 528.1,134.9 528.7,134.9 529.3,134.9 529.9,134.9 530.6,134.9 531.2,134.9 531.8,134.9 532.4,134.9 533.0,134.9 533.6,134.9 534.2,134.9 534.8,134.9 535.4,134.9 536.0,134.9 536.7,134.9 537.3,134.9 537.9,134.9 538.5,134.9 539.1,134.9 539.7,134.9 539.7,113.7 540.3,113.4 540.9,113.3 541.5,113.7 542.1,113.6 542.7,113.7 543.3,113.9 543.9,113.5 544.5,113.7 545.1,113.9 545.7,114.0 546.3,114.1 546.9,113.8 547.5,113.7 548.1,113.4 548.7,113.4 549.3,113.7 550.0,113.5 550.6,113.7 551.2,113.8 551.8,113.9 552.4,113.8 553.0,113.5 553.6,113.8 554.2,113.7 554.8,113.7 555.4,114.0 556.0,114.2 556.6,114.1 557.2,113.9 557.8,113.8 558.4,113.7 559.0,113.7 559.6,113.8 560.2,113.7 560.2,134.9 560.8,134.9 561.4,134.9 562.0,134.9 562.6,134.9 563.2,134.9 563.8,134.9 564.4,134.9 565.0,134.9 565.7,134.9 566.3,134.9 566.9,134.9 567.5,134.9 568.1,134.9 568.7,134.9 569.3,134.9 569.9,134.9 570.5,134.9 571.1,134.9 571.7,134.9 572.3,134.9 572.9,134.9 573.5,134.9 574.1,134.9 574.7,134.9 575.4,134.9 576.0,134.9 576.6,134.9 577.2,134.9 577.8,134.9 578.4,134.9 579.0,134.9 579.6,134.9 580.2,134.9 580.8,134.9 581.4,134.9 582.0,134.9 582.6,134.9 583.2,134.9 583.8,134.9 584.4,134.9 585.0,134.9 585.7,134.9 586.3,134.9 586.9,134.9 587.5,134.9 588.1,134.9 588.7,134.9 589.3,134.9 589.9,134.9 590.5,134.9 591.1,134.9 591.7,134.9 592.3,134.9 592.9,134.9 593.5,134.9 594.1,134.9 594.7,134.9 595.4,134.9 596.0,134.9 596.6,134.9 597.2,134.9 597.8,134.9 598.4,134.9 599.0,134.9 599.6,134.9 600.2,134.9 600.2,114.3 600.8,113.9 601.4,114.0 602.0,113.8 602.6,113.9 603.2,113.8 603.8,113.8 604.4,113.8 605.0,114.2 605.6,114.4 606.2,114.2 606.9,113.8 607.5,113.9 608.1,113.7 608.7,113.7 609.3,113.6 609.9,113.5 610.5,113.9 611.1,113.8 611.7,113.8 612.3,113.9 612.9,114.0 613.5,114.1 614.1,114.3 614.7,114.4 615.3,113.6 615.9,113.3 616.5,113.4 617.1,113.4 617.7,113.7 618.3,114.4 618.9,114.6 619.5,114.3 620.1,113.8 620.8,113.8 621.4,114.0 622.0,114.0 622.6,114.2 623.2,114.4 623.8,114.2 624.4,114.2 625.0,114.3 625.6,114.3 626.2,114.4 626.8,114.1 626.8,134.9 627.4,134.9 628.0,134.9 628.6,134.9 629.2,134.9 629.8,134.9 630.4,134.9 631.0,134.9 631.6,134.9 632.2,134.9 632.8,134.9 633.4,134.9 634.0,134.9 634.6,134.9 635.2,134.9 635.8,134.9 636.4,134.9 637.0,134.9 637.6,134.9 638.2,134.9 638.8,134.9 639.4,134.9 640.0,134.9 640.6,134.9 641.2,134.9 641.8,134.9 642.4,134.9 643.0,134.9 643.6,134.9 644.2,134.9 644.8,134.9 645.4,134.9 646.0,134.9 646.6,134.9 647.2,134.9 647.8,134.9 648.4,134.9 649.0,134.9 649.6,134.9 650.2,134.9 650.8,134.9 651.4,134.9 652.0,134.9 652.6,134.9 653.2,134.9 653.8,134.9 654.4,134.9 655.0,134.9 655.6,134.9 656.2,134.9 656.8,134.9 657.4,134.9 658.0,134.9 658.6,134.9 659.2,134.9 659.8,134.9 660.4,134.9 661.0,134.9 661.6,134.9 662.2,134.9 662.8,134.9 663.4,134.9 664.0,134.9 664.6,134.9 664.6,113.7 665.2,114.0 665.8,114.5 666.5,114.1 667.1,114.4 667.7,114.1 668.3,113.8 668.9,113.7 669.5,113.8 670.1,113.8 670.8,113.8 671.4,113.8 672.0,113.9" fill="none" stroke="#d02ab8" stroke-width="1.2" stroke-linejoin="round"/>
<line x1="432.00" y1="96.50" x2="432.00" y2="134.90" stroke="#444" stroke-width="1" />
<line x1="432.00" y1="96.50" x2="434.60" y2="96.50" stroke="#444" stroke-width="1" />
<line x1="432.00" y1="115.70" x2="434.60" y2="115.70" stroke="#444" stroke-width="1" />
<line x1="432.00" y1="134.90" x2="434.60" y2="134.90" stroke="#444" stroke-width="1" />
<text x="428.30" y="100.20" font-size="10.60" fill="#cc0000" stroke="#cc0000" stroke-width="0.1" text-anchor="end">1</text>
<text x="428.30" y="138.70" font-size="10.60" fill="#cc0000" stroke="#cc0000" stroke-width="0.1" text-anchor="end">0</text>
<text x="362.60" y="111.80" font-size="12.14" font-weight="normal" fill="#cc0000" stroke="#cc0000" stroke-width="0.1" textLength="53.52" lengthAdjust="spacingAndGlyphs">Prediction</text>
<text x="391.60" y="126.90" font-size="12.14" font-weight="normal" fill="#cc0000" stroke="#cc0000" stroke-width="0.1" textLength="24.93" lengthAdjust="spacingAndGlyphs">Error</text>
<polyline points="432.0,203.8 432.7,203.8 433.3,203.8 434.0,203.8 434.6,203.8 435.3,203.8 435.9,203.8 436.6,203.8 437.2,203.8 437.9,203.8 438.5,203.8 439.2,203.8 439.2,168.3 439.8,169.4 440.4,169.4 441.0,169.4 441.6,169.7 442.2,169.4 442.8,169.5 443.4,169.3 444.0,169.3 444.7,169.4 445.3,169.7 445.9,170.3 446.5,170.5 447.1,170.7 447.7,170.7 448.3,171.0 448.9,170.1 449.5,170.9 450.1,170.7 450.7,171.1 451.3,171.3 451.9,171.2 452.5,171.4 453.1,171.9 453.7,171.8 454.3,172.0 454.9,172.7 455.6,172.5 456.2,172.8 456.8,172.9 457.4,172.7 458.0,172.6 458.6,172.7 459.2,172.1 459.8,172.3 460.4,172.7 461.0,172.7 461.6,172.9 462.2,173.7 462.8,174.0 463.4,174.3 464.0,173.4 464.6,173.5 465.2,173.6 465.8,173.8 466.5,173.5 467.1,173.6 467.7,173.2 468.3,173.2 468.9,172.9 469.5,173.3 470.1,173.4 470.7,173.8 471.3,174.0 471.9,174.6 472.5,174.7 473.1,174.9 473.7,174.9 474.3,174.5 474.9,174.4 475.5,174.1 476.1,174.0 476.7,173.9 477.4,173.9 478.0,174.3 478.6,174.2 479.2,174.5 479.8,174.8 480.4,174.5 481.0,174.0 481.6,174.6 482.2,174.2 482.2,203.8 482.8,203.8 483.4,203.8 484.0,203.8 484.7,203.8 485.3,203.8 485.9,203.8 486.5,203.8 487.1,203.8 487.7,203.8 488.3,203.8 489.0,203.8 489.6,203.8 490.2,203.8 490.8,203.8 491.4,203.8 492.0,203.8 492.6,203.8 493.3,203.8 493.9,203.8 494.5,203.8 495.1,203.8 495.7,203.8 496.3,203.8 497.0,203.8 497.6,203.8 498.2,203.8 498.8,203.8 499.4,203.8 500.0,203.8 500.6,203.8 501.3,203.8 501.9,203.8 502.5,203.8 503.1,203.8 503.7,203.8 504.3,203.8 504.9,203.8 505.6,203.8 506.2,203.8 506.8,203.8 507.4,203.8 507.4,168.5 508.0,168.4 508.6,168.4 509.2,168.8 509.8,168.9 510.4,168.5 511.1,169.4 511.7,170.0 512.3,170.4 512.9,170.1 513.5,169.9 514.1,170.2 514.7,170.1 515.3,170.4 515.9,170.4 516.5,170.8 517.2,170.9 517.8,171.0 518.4,170.8 519.0,170.4 519.6,171.3 520.2,171.3 520.8,171.5 521.4,171.3 522.0,171.2 522.6,171.3 523.2,171.3 523.9,171.9 524.5,172.6 525.1,172.1 525.7,171.9 526.3,172.4 526.9,172.2 527.5,172.2 528.1,173.1 528.7,172.8 529.3,173.2 529.9,172.9 530.6,173.2 531.2,173.5 531.8,173.9 532.4,173.9 533.0,173.5 533.6,173.7 534.2,174.3 534.8,173.5 535.4,173.0 536.0,173.1 536.7,173.5 537.3,174.0 537.9,174.5 538.5,174.2 539.1,173.8 539.7,174.3 539.7,203.8 540.3,203.8 540.9,203.8 541.5,203.8 542.1,203.8 542.7,203.8 543.3,203.8 543.9,203.8 544.5,203.8 545.1,203.8 545.7,203.8 546.3,203.8 546.9,203.8 547.5,203.8 548.1,203.8 548.7,203.8 549.3,203.8 550.0,203.8 550.6,203.8 551.2,203.8 551.8,203.8 552.4,203.8 553.0,203.8 553.6,203.8 554.2,203.8 554.8,203.8 555.4,203.8 556.0,203.8 556.6,203.8 557.2,203.8 557.8,203.8 558.4,203.8 559.0,203.8 559.6,203.8 560.2,203.8 560.2,168.3 560.8,168.2 561.4,168.5 562.0,169.1 562.6,168.7 563.2,169.4 563.8,169.6 564.4,170.3 565.0,170.6 565.7,171.0 566.3,170.5 566.9,170.2 567.5,170.5 568.1,171.0 568.7,171.0 569.3,170.9 569.9,171.4 570.5,171.7 571.1,171.7 571.7,171.4 572.3,171.5 572.9,171.4 573.5,171.9 574.1,172.7 574.7,172.4 575.4,172.6 576.0,172.5 576.6,172.6 577.2,172.4 577.8,172.7 578.4,172.2 579.0,172.4 579.6,172.3 580.2,172.3 580.8,172.2 581.4,172.3 582.0,173.1 582.6,173.3 583.2,172.7 583.8,172.8 584.4,172.8 585.0,172.9 585.7,173.3 586.3,173.6 586.9,173.8 587.5,173.4 588.1,173.4 588.7,173.0 589.3,173.2 589.9,172.9 590.5,173.1 591.1,173.7 591.7,173.4 592.3,173.5 592.9,173.4 593.5,173.6 594.1,174.0 594.7,174.1 595.4,174.5 596.0,174.9 596.6,175.1 597.2,175.1 597.8,175.4 598.4,175.2 599.0,175.0 599.6,174.3 600.2,173.9 600.2,203.8 600.8,203.8 601.4,203.8 602.0,203.8 602.6,203.8 603.2,203.8 603.8,203.8 604.4,203.8 605.0,203.8 605.6,203.8 606.2,203.8 606.9,203.8 607.5,203.8 608.1,203.8 608.7,203.8 609.3,203.8 609.9,203.8 610.5,203.8 611.1,203.8 611.7,203.8 612.3,203.8 612.9,203.8 613.5,203.8 614.1,203.8 614.7,203.8 615.3,203.8 615.9,203.8 616.5,203.8 617.1,203.8 617.7,203.8 618.3,203.8 618.9,203.8 619.5,203.8 620.1,203.8 620.8,203.8 621.4,203.8 622.0,203.8 622.6,203.8 623.2,203.8 623.8,203.8 624.4,203.8 625.0,203.8 625.6,203.8 626.2,203.8 626.8,203.8 626.8,168.0 627.4,168.3 628.0,169.1 628.6,169.4 629.2,169.9 629.8,169.8 630.4,170.3 631.0,170.5 631.6,170.3 632.2,170.3 632.8,170.6 633.4,170.6 634.0,170.7 634.6,170.7 635.2,170.8 635.8,170.9 636.4,170.7 637.0,171.4 637.6,171.5 638.2,171.5 638.8,171.6 639.4,171.8 640.0,172.0 640.6,171.9 641.2,171.5 641.8,171.8 642.4,172.0 643.0,172.0 643.6,172.2 644.2,172.9 644.8,172.7 645.4,172.8 646.0,173.0 646.6,172.7 647.2,172.8 647.8,173.0 648.4,173.7 649.0,174.1 649.6,173.8 650.2,173.7 650.8,173.5 651.4,173.4 652.0,173.6 652.6,174.0 653.2,174.2 653.8,174.1 654.4,174.4 655.0,174.0 655.6,174.4 656.2,174.8 656.8,174.6 657.4,175.0 658.0,174.3 658.6,174.5 659.2,174.5 659.8,174.5 660.4,174.7 661.0,175.2 661.6,175.5 662.2,175.0 662.8,174.5 663.4,173.9 664.0,174.6 664.6,174.4 664.6,203.8 665.2,203.8 665.8,203.8 666.5,203.8 667.1,203.8 667.7,203.8 668.3,203.8 668.9,203.8 669.5,203.8 670.1,203.8 670.8,203.8 671.4,203.8 672.0,203.8" fill="none" stroke="#4ec41c" stroke-width="1.2" stroke-linejoin="round"/>
<polyline points="432.0,177.0 432.7,177.1 433.3,177.1 434.0,177.4 434.6,177.2 435.3,177.7 435.9,177.8 436.6,178.0 437.2,177.9 437.9,177.9 438.5,177.9 439.2,178.1 439.2,203.8 439.8,203.8 440.4,203.8 441.0,203.8 441.6,203.8 442.2,203.8 442.8,203.8 443.4,203.8 444.0,203.8 444.7,203.8 445.3,203.8 445.9,203.8 446.5,203.8 447.1,203.8 447.7,203.8 448.3,203.8 448.9,203.8 449.5,203.8 450.1,203.8 450.7,203.8 451.3,203.8 451.9,203.8 452.5,203.8 453.1,203.8 453.7,203.8 454.3,203.8 454.9,203.8 455.6,203.8 456.2,203.8 456.8,203.8 457.4,203.8 458.0,203.8 458.6,203.8 459.2,203.8 459.8,203.8 460.4,203.8 461.0,203.8 461.6,203.8 462.2,203.8 462.8,203.8 463.4,203.8 464.0,203.8 464.6,203.8 465.2,203.8 465.8,203.8 466.5,203.8 467.1,203.8 467.7,203.8 468.3,203.8 468.9,203.8 469.5,203.8 470.1,203.8 470.7,203.8 471.3,203.8 471.9,203.8 472.5,203.8 473.1,203.8 473.7,203.8 474.3,203.8 474.9,203.8 475.5,203.8 476.1,203.8 476.7,203.8 477.4,203.8 478.0,203.8 478.6,203.8 479.2,203.8 479.8,203.8 480.4,203.8 481.0,203.8 481.6,203.8 482.2,203.8 482.2,171.1 482.8,171.2 483.4,171.2 484.0,171.3 484.7,171.4 485.3,171.4 485.9,171.7 486.5,171.9 487.1,172.3 487.7,172.1 488.3,172.4 489.0,172.7 489.6,172.5 490.2,172.6 490.8,172.5 491.4,172.7 492.0,172.4 492.6,172.5 493.3,172.8 493.9,173.0 494.5,173.2 495.1,173.2 495.7,173.0 496.3,173.4 497.0,173.8 497.6,173.8 498.2,173.8 498.8,174.3 499.4,174.5 500.0,174.7 500.6,174.7 501.3,174.6 501.9,174.9 502.5,175.2 503.1,175.1 503.7,175.6 504.3,175.5 504.9,175.6 505.6,176.8 506.2,178.2 506.8,179.9 507.4,181.6 507.4,203.8 508.0,203.8 508.6,203.8 509.2,203.8 509.8,203.8 510.4,203.8 511.1,203.8 511.7,203.8 512.3,203.8 512.9,203.8 513.5,203.8 514.1,203.8 514.7,203.8 515.3,203.8 515.9,203.8 516.5,203.8 517.2,203.8 517.8,203.8 518.4,203.8 519.0,203.8 519.6,203.8 520.2,203.8 520.8,203.8 521.4,203.8 522.0,203.8 522.6,203.8 523.2,203.8 523.9,203.8 524.5,203.8 525.1,203.8 525.7,203.8 526.3,203.8 526.9,203.8 527.5,203.8 528.1,203.8 528.7,203.8 529.3,203.8 529.9,203.8 530.6,203.8 531.2,203.8 531.8,203.8 532.4,203.8 533.0,203.8 533.6,203.8 534.2,203.8 534.8,203.8 535.4,203.8 536.0,203.8 536.7,203.8 537.3,203.8 537.9,203.8 538.5,203.8 539.1,203.8 539.7,203.8 539.7,170.8 540.3,171.3 540.9,171.4 541.5,171.9 542.1,171.8 542.7,171.9 543.3,172.0 543.9,171.7 544.5,171.6 545.1,171.7 545.7,171.8 546.3,172.0 546.9,172.3 547.5,172.4 548.1,172.2 548.7,172.6 549.3,172.8 550.0,172.9 550.6,172.9 551.2,172.9 551.8,173.3 552.4,173.4 553.0,173.6 553.6,173.9 554.2,173.9 554.8,174.1 555.4,174.0 556.0,174.0 556.6,174.3 557.2,174.4 557.8,174.8 558.4,176.4 559.0,177.9 559.6,179.1 560.2,180.7 560.2,203.8 560.8,203.8 561.4,203.8 562.0,203.8 562.6,203.8 563.2,203.8 563.8,203.8 564.4,203.8 565.0,203.8 565.7,203.8 566.3,203.8 566.9,203.8 567.5,203.8 568.1,203.8 568.7,203.8 569.3,203.8 569.9,203.8 570.5,203.8 571.1,203.8 571.7,203.8 572.3,203.8 572.9,203.8 573.5,203.8 574.1,203.8 574.7,203.8 575.4,203.8 576.0,203.8 576.6,203.8 577.2,203.8 577.8,203.8 578.4,203.8 579.0,203.8 579.6,203.8 580.2,203.8 580.8,203.8 581.4,203.8 582.0,203.8 582.6,203.8 583.2,203.8 583.8,203.8 584.4,203.8 585.0,203.8 585.7,203.8 586.3,203.8 586.9,203.8 587.5,203.8 588.1,203.8 588.7,203.8 589.3,203.8 589.9,203.8 590.5,203.8 591.1,203.8 591.7,203.8 592.3,203.8 592.9,203.8 593.5,203.8 594.1,203.8 594.7,203.8 595.4,203.8 596.0,203.8 596.6,203.8 597.2,203.8 597.8,203.8 598.4,203.8 599.0,203.8 599.6,203.8 600.2,203.8 600.2,171.1 600.8,171.1 601.4,171.2 602.0,171.3 602.6,171.7 603.2,171.8 603.8,171.8 604.4,172.0 605.0,172.0 605.6,171.7 606.2,171.9 606.9,172.2 607.5,171.9 608.1,172.5 608.7,172.8 609.3,172.8 609.9,173.0 610.5,173.5 611.1,173.4 611.7,173.2 612.3,173.5 612.9,173.3 613.5,173.3 614.1,173.3 614.7,173.8 615.3,173.9 615.9,173.7 616.5,173.5 617.1,173.6 617.7,173.9 618.3,174.1 618.9,174.5 619.5,174.4 620.1,174.8 620.8,174.9 621.4,175.4 622.0,175.7 622.6,175.3 623.2,175.4 623.8,175.5 624.4,176.3 625.0,177.7 625.6,178.7 626.2,180.5 626.8,182.4 626.8,203.8 627.4,203.8 628.0,203.8 628.6,203.8 629.2,203.8 629.8,203.8 630.4,203.8 631.0,203.8 631.6,203.8 632.2,203.8 632.8,203.8 633.4,203.8 634.0,203.8 634.6,203.8 635.2,203.8 635.8,203.8 636.4,203.8 637.0,203.8 637.6,203.8 638.2,203.8 638.8,203.8 639.4,203.8 640.0,203.8 640.6,203.8 641.2,203.8 641.8,203.8 642.4,203.8 643.0,203.8 643.6,203.8 644.2,203.8 644.8,203.8 645.4,203.8 646.0,203.8 646.6,203.8 647.2,203.8 647.8,203.8 648.4,203.8 649.0,203.8 649.6,203.8 650.2,203.8 650.8,203.8 651.4,203.8 652.0,203.8 652.6,203.8 653.2,203.8 653.8,203.8 654.4,203.8 655.0,203.8 655.6,203.8 656.2,203.8 656.8,203.8 657.4,203.8 658.0,203.8 658.6,203.8 659.2,203.8 659.8,203.8 660.4,203.8 661.0,203.8 661.6,203.8 662.2,203.8 662.8,203.8 663.4,203.8 664.0,203.8 664.6,203.8 664.6,171.0 665.2,171.0 665.8,171.1 666.5,171.1 667.1,170.7 667.7,171.1 668.3,171.4 668.9,171.7 669.5,171.8 670.1,171.8 670.8,172.2 671.4,172.0 672.0,172.0" fill="none" stroke="#d02ab8" stroke-width="1.2" stroke-linejoin="round"/>
<line x1="432.00" y1="165.50" x2="432.00" y2="203.80" stroke="#444" stroke-width="1" />
<line x1="432.00" y1="165.50" x2="434.60" y2="165.50" stroke="#444" stroke-width="1" />
<line x1="432.00" y1="184.65" x2="434.60" y2="184.65" stroke="#444" stroke-width="1" />
<line x1="432.00" y1="203.80" x2="434.60" y2="203.80" stroke="#444" stroke-width="1" />
<text x="428.30" y="169.20" font-size="10.60" fill="#000" stroke="#000" stroke-width="0.1" text-anchor="end">1</text>
<text x="428.30" y="207.60" font-size="10.60" fill="#000" stroke="#000" stroke-width="0.1" text-anchor="end">0</text>
<text x="397.90" y="188.10" font-size="12.00" font-weight="normal" fill="#000" stroke="#000" stroke-width="0.1" textLength="22.93" lengthAdjust="spacingAndGlyphs">Rate</text>
<polyline points="432.0,225.5 432.7,225.7 433.3,225.7 434.0,225.6 434.6,225.9 435.3,225.6 435.9,225.3 436.6,225.5 437.2,225.5 437.9,225.8 438.5,225.4 439.2,225.5 439.2,244.8 439.8,245.4 440.4,244.9 441.0,245.8 441.6,244.4 442.2,244.2 442.8,244.4 443.4,243.2 444.0,243.2 444.7,242.2 445.3,241.6 445.9,240.8 446.5,241.6 447.1,241.6 447.7,241.3 448.3,241.3 448.9,240.3 449.5,240.8 450.1,240.0 450.7,239.2 451.3,240.5 451.9,240.8 452.5,240.9 453.1,240.6 453.7,239.8 454.3,239.5 454.9,239.0 455.6,239.0 456.2,238.6 456.8,237.9 457.4,237.2 458.0,237.6 458.6,237.3 459.2,237.5 459.8,237.1 460.4,237.6 461.0,236.4 461.6,235.6 462.2,235.5 462.8,235.6 463.4,235.5 464.0,235.5 464.6,235.9 465.2,234.3 465.8,232.0 466.5,233.1 467.1,233.7 467.7,233.0 468.3,232.4 468.9,233.2 469.5,233.9 470.1,232.9 470.7,233.6 471.3,231.9 471.9,231.8 472.5,231.3 473.1,231.0 473.7,231.0 474.3,230.6 474.9,230.4 475.5,229.3 476.1,229.2 476.7,229.0 477.4,229.1 478.0,229.4 478.6,229.6 479.2,229.4 479.8,228.1 480.4,227.7 481.0,227.5 481.6,226.3 482.2,225.8 482.2,227.0 482.8,226.3 483.4,226.5 484.0,226.8 484.7,226.4 485.3,226.7 485.9,226.8 486.5,226.3 487.1,226.5 487.7,225.7 488.3,225.8 489.0,225.2 489.6,225.4 490.2,225.6 490.8,225.9 491.4,226.0 492.0,226.2 492.6,226.1 493.3,225.8 493.9,226.2 494.5,226.4 495.1,226.8 495.7,226.1 496.3,226.0 497.0,226.0 497.6,225.9 498.2,225.6 498.8,225.5 499.4,225.3 500.0,225.5 500.6,225.5 501.3,225.6 501.9,226.1 502.5,225.6 503.1,226.0 503.7,226.1 504.3,225.7 504.9,225.6 505.6,225.3 506.2,224.9 506.8,224.5 507.4,224.3 507.4,245.7 508.0,245.9 508.6,245.3 509.2,245.4 509.8,244.4 510.4,243.8 511.1,244.1 511.7,243.5 512.3,243.3 512.9,243.5 513.5,243.7 514.1,244.3 514.7,244.2 515.3,243.2 515.9,241.9 516.5,242.0 517.2,241.6 517.8,241.0 518.4,240.3 519.0,240.0 519.6,239.2 520.2,238.8 520.8,239.4 521.4,239.0 522.0,240.3 522.6,239.8 523.2,239.3 523.9,238.5 524.5,238.4 525.1,237.6 525.7,236.6 526.3,237.2 526.9,237.3 527.5,236.8 528.1,236.2 528.7,236.0 529.3,235.3 529.9,236.0 530.6,235.2 531.2,234.3 531.8,233.6 532.4,233.5 533.0,233.7 533.6,233.4 534.2,233.4 534.8,234.2 535.4,234.1 536.0,233.7 536.7,233.5 537.3,233.6 537.9,233.1 538.5,231.5 539.1,228.4 539.7,225.8 539.7,226.3 540.3,226.6 540.9,226.2 541.5,225.8 542.1,226.0 542.7,226.2 543.3,226.5 543.9,226.2 544.5,226.1 545.1,226.1 545.7,226.5 546.3,225.9 546.9,225.8 547.5,225.9 548.1,225.5 548.7,225.9 549.3,225.7 550.0,226.1 550.6,225.6 551.2,225.8 551.8,225.5 552.4,225.7 553.0,225.6 553.6,225.4 554.2,225.8 554.8,225.7 555.4,226.0 556.0,225.6 556.6,225.8 557.2,225.9 557.8,225.9 558.4,225.5 559.0,225.8 559.6,225.7 560.2,225.7 560.2,245.0 560.8,245.1 561.4,245.7 562.0,246.7 562.6,245.7 563.2,245.5 563.8,245.1 564.4,244.3 565.0,243.6 565.7,244.3 566.3,244.3 566.9,243.6 567.5,243.2 568.1,242.0 568.7,242.1 569.3,243.0 569.9,241.7 570.5,242.3 571.1,242.3 571.7,241.4 572.3,241.5 572.9,239.4 573.5,239.2 574.1,238.8 574.7,239.0 575.4,237.5 576.0,237.4 576.6,238.0 577.2,237.1 577.8,238.2 578.4,238.2 579.0,237.6 579.6,237.2 580.2,237.5 580.8,236.1 581.4,235.1 582.0,235.8 582.6,235.4 583.2,235.6 583.8,235.6 584.4,234.6 585.0,234.4 585.7,234.3 586.3,234.0 586.9,234.5 587.5,233.3 588.1,233.6 588.7,232.5 589.3,232.7 589.9,232.8 590.5,231.6 591.1,231.4 591.7,231.7 592.3,231.8 592.9,231.1 593.5,229.8 594.1,229.5 594.7,229.8 595.4,230.4 596.0,230.5 596.6,230.1 597.2,229.6 597.8,229.6 598.4,228.5 599.0,228.5 599.6,227.2 600.2,225.8 600.2,226.7 600.8,226.4 601.4,226.1 602.0,226.3 602.6,226.4 603.2,226.3 603.8,226.5 604.4,226.8 605.0,226.9 605.6,226.6 606.2,226.4 606.9,225.8 607.5,226.4 608.1,226.2 608.7,226.5 609.3,226.0 609.9,225.8 610.5,225.8 611.1,225.5 611.7,225.7 612.3,225.9 612.9,226.2 613.5,226.3 614.1,226.1 614.7,225.8 615.3,225.4 615.9,225.6 616.5,225.8 617.1,225.9 617.7,225.9 618.3,226.0 618.9,226.0 619.5,226.1 620.1,225.9 620.8,225.9 621.4,225.9 622.0,226.1 622.6,225.9 623.2,225.6 623.8,225.3 624.4,225.5 625.0,225.7 625.6,226.0 626.2,226.1 626.8,226.0 626.8,245.6 627.4,245.8 628.0,244.5 628.6,244.9 629.2,244.7 629.8,244.8 630.4,243.3 631.0,242.5 631.6,243.5 632.2,243.5 632.8,243.0 633.4,243.0 634.0,242.9 634.6,243.1 635.2,242.5 635.8,242.7 636.4,241.7 637.0,239.9 637.6,240.2 638.2,239.2 638.8,239.2 639.4,239.7 640.0,239.8 640.6,240.1 641.2,239.6 641.8,238.9 642.4,238.1 643.0,238.2 643.6,238.8 644.2,238.4 644.8,237.0 645.4,236.8 646.0,236.8 646.6,237.9 647.2,237.6 647.8,236.8 648.4,237.0 649.0,235.7 649.6,235.8 650.2,236.0 650.8,235.9 651.4,235.5 652.0,234.4 652.6,234.5 653.2,235.3 653.8,234.7 654.4,233.8 655.0,232.6 655.6,233.2 656.2,232.0 656.8,231.5 657.4,231.3 658.0,231.8 658.6,232.1 659.2,232.2 659.8,231.2 660.4,230.8 661.0,229.9 661.6,228.8 662.2,229.0 662.8,229.1 663.4,227.5 664.0,227.0 664.6,225.8 664.6,226.5 665.2,226.6 665.8,226.6 666.5,226.5 667.1,226.5 667.7,226.3 668.3,226.5 668.9,226.9 669.5,226.5 670.1,226.4 670.8,225.9 671.4,225.9 672.0,226.5" fill="none" stroke="#4ec41c" stroke-width="1.2" stroke-linejoin="round"/>
<polyline points="432.0,230.7 432.7,230.3 433.3,230.5 434.0,230.4 434.6,230.6 435.3,230.0 435.9,229.3 436.6,229.4 437.2,229.4 437.9,229.4 438.5,229.4 439.2,229.0 439.2,224.7 439.8,224.8 440.4,225.2 441.0,225.0 441.6,225.0 442.2,225.6 442.8,225.8 443.4,224.7 444.0,224.6 444.7,224.4 445.3,224.4 445.9,224.6 446.5,224.4 447.1,224.0 447.7,224.3 448.3,224.2 448.9,223.9 449.5,224.3 450.1,224.3 450.7,224.6 451.3,224.3 451.9,224.5 452.5,224.0 453.1,224.5 453.7,223.8 454.3,224.1 454.9,224.5 455.6,224.9 456.2,224.4 456.8,224.8 457.4,223.9 458.0,223.5 458.6,223.5 459.2,224.3 459.8,224.3 460.4,224.6 461.0,225.3 461.6,224.8 462.2,223.7 462.8,224.1 463.4,223.8 464.0,223.4 464.6,224.0 465.2,224.2 465.8,224.1 466.5,223.9 467.1,224.4 467.7,224.2 468.3,224.2 468.9,223.8 469.5,224.5 470.1,224.6 470.7,224.7 471.3,224.6 471.9,224.1 472.5,224.3 473.1,223.1 473.7,223.7 474.3,223.4 474.9,223.1 475.5,223.0 476.1,223.3 476.7,223.8 477.4,224.0 478.0,223.7 478.6,223.7 479.2,223.5 479.8,223.3 480.4,223.8 481.0,224.2 481.6,223.5 482.2,223.8 482.2,240.8 482.8,239.5 483.4,239.8 484.0,239.6 484.7,238.8 485.3,238.7 485.9,238.5 486.5,238.4 487.1,237.4 487.7,238.4 488.3,237.2 489.0,236.4 489.6,236.3 490.2,235.8 490.8,236.0 491.4,235.2 492.0,233.5 492.6,234.1 493.3,233.4 493.9,233.4 494.5,233.5 495.1,233.5 495.7,233.2 496.3,233.5 497.0,233.6 497.6,232.1 498.2,231.8 498.8,231.2 499.4,230.8 500.0,230.4 500.6,230.8 501.3,230.8 501.9,230.0 502.5,229.1 503.1,229.4 503.7,229.2 504.3,229.2 504.9,228.3 505.6,227.8 506.2,227.0 506.8,226.2 507.4,225.4 507.4,224.7 508.0,224.3 508.6,224.4 509.2,224.3 509.8,224.9 510.4,226.1 511.1,225.8 511.7,225.2 512.3,225.2 512.9,225.3 513.5,225.6 514.1,224.9 514.7,225.0 515.3,224.8 515.9,224.3 516.5,224.1 517.2,223.3 517.8,223.7 518.4,223.6 519.0,223.6 519.6,224.1 520.2,224.2 520.8,224.5 521.4,224.9 522.0,224.6 522.6,224.9 523.2,224.0 523.9,224.5 524.5,224.7 525.1,224.5 525.7,224.7 526.3,224.6 526.9,224.7 527.5,225.2 528.1,225.9 528.7,226.0 529.3,224.8 529.9,224.5 530.6,224.3 531.2,224.5 531.8,224.5 532.4,224.3 533.0,224.8 533.6,224.9 534.2,225.1 534.8,224.3 535.4,224.7 536.0,224.0 536.7,224.2 537.3,223.0 537.9,223.4 538.5,223.6 539.1,223.1 539.7,223.0 539.7,241.0 540.3,240.9 540.9,240.5 541.5,239.9 542.1,240.3 542.7,239.6 543.3,239.6 543.9,239.0 544.5,237.4 545.1,237.7 545.7,237.4 546.3,237.2 546.9,236.3 547.5,236.3 548.1,236.8 548.7,237.0 549.3,236.2 550.0,235.5 550.6,234.5 551.2,234.5 551.8,233.8 552.4,234.0 553.0,233.0 553.6,232.8 554.2,232.8 554.8,232.4 555.4,231.2 556.0,231.5 556.6,231.8 557.2,231.8 557.8,231.7 558.4,231.1 559.0,229.4 559.6,227.2 560.2,225.4 560.2,224.6 560.8,224.8 561.4,224.4 562.0,225.1 562.6,224.3 563.2,223.5 563.8,223.0 564.4,223.5 565.0,223.0 565.7,223.5 566.3,223.3 566.9,223.8 567.5,223.9 568.1,223.9 568.7,224.8 569.3,224.8 569.9,224.0 570.5,225.4 571.1,225.0 571.7,224.4 572.3,224.3 572.9,224.3 573.5,223.8 574.1,223.8 574.7,224.8 575.4,225.1 576.0,225.0 576.6,224.7 577.2,224.8 577.8,224.7 578.4,223.9 579.0,225.3 579.6,224.5 580.2,224.0 580.8,223.9 581.4,224.0 582.0,224.0 582.6,223.9 583.2,223.9 583.8,224.3 584.4,224.0 585.0,224.4 585.7,224.3 586.3,224.4 586.9,224.8 587.5,224.4 588.1,224.3 588.7,224.7 589.3,224.6 589.9,225.0 590.5,224.1 591.1,223.9 591.7,223.1 592.3,223.6 592.9,223.4 593.5,224.0 594.1,224.4 594.7,224.3 595.4,224.0 596.0,223.6 596.6,223.8 597.2,223.4 597.8,223.1 598.4,223.7 599.0,223.8 599.6,224.2 600.2,223.4 600.2,240.9 600.8,241.3 601.4,240.4 602.0,240.7 602.6,240.4 603.2,240.1 603.8,239.0 604.4,237.8 605.0,237.8 605.6,237.6 606.2,237.5 606.9,237.2 607.5,236.9 608.1,235.4 608.7,235.8 609.3,235.6 609.9,235.6 610.5,235.1 611.1,234.9 611.7,234.3 612.3,234.4 612.9,233.0 613.5,232.8 614.1,233.4 614.7,232.6 615.3,232.5 615.9,232.6 616.5,231.9 617.1,231.7 617.7,230.9 618.3,230.8 618.9,230.0 619.5,229.7 620.1,229.3 620.8,229.0 621.4,228.9 622.0,228.7 622.6,228.2 623.2,227.5 623.8,227.5 624.4,226.2 625.0,225.4 625.6,225.9 626.2,225.4 626.8,225.4 626.8,224.9 627.4,225.0 628.0,224.9 628.6,225.2 629.2,224.6 629.8,225.2 630.4,225.3 631.0,225.8 631.6,226.0 632.2,225.4 632.8,224.9 633.4,224.9 634.0,224.5 634.6,224.2 635.2,224.6 635.8,224.6 636.4,224.4 637.0,223.6 637.6,224.1 638.2,224.0 638.8,224.0 639.4,223.6 640.0,223.7 640.6,223.5 641.2,224.2 641.8,224.4 642.4,225.2 643.0,225.0 643.6,223.8 644.2,223.9 644.8,224.0 645.4,224.0 646.0,224.0 646.6,224.6 647.2,224.8 647.8,224.7 648.4,224.5 649.0,224.8 649.6,224.7 650.2,224.8 650.8,225.2 651.4,225.1 652.0,225.2 652.6,224.5 653.2,223.9 653.8,223.7 654.4,223.9 655.0,224.2 655.6,224.8 656.2,224.8 656.8,223.9 657.4,223.5 658.0,223.6 658.6,223.8 659.2,223.9 659.8,223.7 660.4,223.8 661.0,223.7 661.6,224.1 662.2,224.0 662.8,224.1 663.4,223.6 664.0,224.2 664.6,223.6 664.6,240.2 665.2,240.3 665.8,239.7 666.5,238.5 667.1,238.0 667.7,238.6 668.3,238.4 668.9,238.9 669.5,238.1 670.1,237.4 670.8,237.6 671.4,237.0 672.0,236.2" fill="none" stroke="#d02ab8" stroke-width="1.2" stroke-linejoin="round"/>
<line x1="432.00" y1="215.00" x2="432.00" y2="253.40" stroke="#444" stroke-width="1" />
<line x1="432.00" y1="215.00" x2="434.60" y2="215.00" stroke="#444" stroke-width="1" />
<line x1="432.00" y1="234.20" x2="434.60" y2="234.20" stroke="#444" stroke-width="1" />
<line x1="432.00" y1="253.40" x2="434.60" y2="253.40" stroke="#444" stroke-width="1" />
<text x="428.30" y="218.70" font-size="10.60" fill="#cc0000" stroke="#cc0000" stroke-width="0.1" text-anchor="end">1</text>
<text x="428.30" y="257.20" font-size="10.60" fill="#cc0000" stroke="#cc0000" stroke-width="0.1" text-anchor="end">0</text>
<text x="366.70" y="230.30" font-size="12.14" font-weight="normal" fill="#cc0000" stroke="#cc0000" stroke-width="0.1" textLength="53.52" lengthAdjust="spacingAndGlyphs">Prediction</text>
<text x="395.90" y="245.70" font-size="12.14" font-weight="normal" fill="#cc0000" stroke="#cc0000" stroke-width="0.1" textLength="24.53" lengthAdjust="spacingAndGlyphs">Error</text>
<polyline points="432.0,308.1 432.7,308.2 433.3,308.4 434.0,308.6 434.6,308.3 435.3,308.5 435.9,308.3 436.6,308.1 437.2,308.2 437.9,308.6 438.5,308.4 439.2,308.0 439.2,284.5 439.8,284.6 440.4,284.4 441.0,284.4 441.6,284.5 442.2,284.3 442.8,284.4 443.4,284.4 444.0,284.4 444.7,284.5 445.3,284.5 445.9,284.6 446.5,284.7 447.1,284.7 447.7,284.5 448.3,284.4 448.9,284.2 449.5,284.2 450.1,284.1 450.7,284.2 451.3,284.3 451.9,284.3 452.5,284.5 453.1,284.4 453.7,284.5 454.3,284.5 454.9,284.6 455.6,284.6 456.2,284.5 456.8,284.6 457.4,284.6 458.0,284.6 458.6,284.5 459.2,284.6 459.8,284.7 460.4,284.9 461.0,284.9 461.6,284.7 462.2,284.7 462.8,284.6 463.4,284.5 464.0,284.5 464.6,284.5 465.2,284.6 465.8,284.8 466.5,284.7 467.1,284.7 467.7,284.7 468.3,284.8 468.9,284.8 469.5,284.6 470.1,284.7 470.7,284.7 471.3,284.6 471.9,284.7 472.5,284.7 473.1,284.9 473.7,284.8 474.3,284.9 474.9,284.7 475.5,284.7 476.1,284.8 476.7,284.8 477.4,284.8 478.0,284.9 478.6,284.7 479.2,284.6 479.8,284.7 480.4,284.7 481.0,284.9 481.6,285.6 482.2,286.6 482.2,308.4 482.8,307.9 483.4,308.1 484.0,307.9 484.7,308.0 485.3,308.0 485.9,308.3 486.5,308.2 487.1,307.7 487.7,307.8 488.3,307.9 489.0,308.0 489.6,307.9 490.2,308.0 490.8,308.1 491.4,308.0 492.0,307.8 492.6,307.6 493.3,308.1 493.9,308.3 494.5,308.2 495.1,308.0 495.7,307.8 496.3,308.0 497.0,307.5 497.6,307.7 498.2,307.5 498.8,307.4 499.4,307.2 500.0,307.4 500.6,307.5 501.3,308.1 501.9,308.6 502.5,308.6 503.1,308.3 503.7,308.0 504.3,308.1 504.9,307.8 505.6,307.8 506.2,307.5 506.8,308.1 507.4,308.4 507.4,284.5 508.0,284.6 508.6,284.3 509.2,284.5 509.8,284.5 510.4,284.5 511.1,284.4 511.7,284.5 512.3,284.4 512.9,284.3 513.5,284.5 514.1,284.7 514.7,284.7 515.3,284.8 515.9,284.5 516.5,284.6 517.2,284.7 517.8,284.6 518.4,284.6 519.0,284.7 519.6,284.5 520.2,284.4 520.8,284.4 521.4,284.5 522.0,284.6 522.6,284.8 523.2,284.7 523.9,284.6 524.5,284.7 525.1,284.7 525.7,284.3 526.3,284.5 526.9,284.7 527.5,284.6 528.1,284.7 528.7,284.7 529.3,284.6 529.9,284.6 530.6,284.5 531.2,284.5 531.8,284.4 532.4,284.5 533.0,284.8 533.6,284.6 534.2,284.8 534.8,284.7 535.4,284.7 536.0,284.8 536.7,284.8 537.3,284.7 537.9,284.8 538.5,285.1 539.1,285.8 539.7,286.8 539.7,307.9 540.3,307.9 540.9,308.6 541.5,308.3 542.1,308.2 542.7,308.8 543.3,308.6 543.9,308.2 544.5,307.8 545.1,308.2 545.7,308.0 546.3,308.0 546.9,308.1 547.5,308.2 548.1,308.0 548.7,307.9 549.3,307.8 550.0,308.1 550.6,308.4 551.2,308.0 551.8,307.7 552.4,308.0 553.0,308.1 553.6,307.9 554.2,308.4 554.8,308.2 555.4,307.6 556.0,307.7 556.6,308.0 557.2,307.5 557.8,307.7 558.4,307.8 559.0,308.0 559.6,308.0 560.2,308.5 560.2,284.5 560.8,284.6 561.4,284.5 562.0,284.5 562.6,284.3 563.2,284.6 563.8,284.6 564.4,284.4 565.0,284.5 565.7,284.7 566.3,284.7 566.9,284.7 567.5,284.6 568.1,284.4 568.7,284.3 569.3,284.2 569.9,284.2 570.5,284.4 571.1,284.5 571.7,284.6 572.3,284.5 572.9,284.4 573.5,284.4 574.1,284.5 574.7,284.5 575.4,284.4 576.0,284.5 576.6,284.6 577.2,284.6 577.8,284.7 578.4,284.6 579.0,284.5 579.6,284.5 580.2,284.6 580.8,284.4 581.4,284.4 582.0,284.3 582.6,284.3 583.2,284.4 583.8,284.4 584.4,284.6 585.0,284.8 585.7,284.9 586.3,284.8 586.9,284.6 587.5,284.6 588.1,284.6 588.7,284.5 589.3,284.6 589.9,284.8 590.5,285.0 591.1,284.9 591.7,284.8 592.3,284.7 592.9,284.8 593.5,284.7 594.1,284.7 594.7,284.8 595.4,284.8 596.0,284.8 596.6,284.7 597.2,284.8 597.8,284.9 598.4,284.9 599.0,284.9 599.6,285.7 600.2,286.9 600.2,308.5 600.8,308.4 601.4,308.6 602.0,308.4 602.6,308.6 603.2,308.7 603.8,308.7 604.4,308.7 605.0,308.6 605.6,308.1 606.2,308.2 606.9,308.6 607.5,308.5 608.1,308.2 608.7,308.1 609.3,308.1 609.9,307.6 610.5,307.5 611.1,307.7 611.7,307.5 612.3,308.1 612.9,308.1 613.5,308.4 614.1,308.3 614.7,307.8 615.3,308.1 615.9,307.7 616.5,308.1 617.1,307.8 617.7,308.3 618.3,308.5 618.9,308.2 619.5,308.2 620.1,308.2 620.8,308.2 621.4,308.1 622.0,308.2 622.6,308.4 623.2,308.4 623.8,308.3 624.4,308.5 625.0,308.3 625.6,307.8 626.2,308.4 626.8,308.4 626.8,284.4 627.4,284.4 628.0,284.4 628.6,284.5 629.2,284.5 629.8,284.5 630.4,284.5 631.0,284.3 631.6,284.3 632.2,284.5 632.8,284.7 633.4,284.5 634.0,284.6 634.6,284.6 635.2,284.7 635.8,284.7 636.4,284.6 637.0,284.7 637.6,284.7 638.2,284.5 638.8,284.4 639.4,284.4 640.0,284.5 640.6,284.6 641.2,284.5 641.8,284.4 642.4,284.3 643.0,284.3 643.6,284.3 644.2,284.4 644.8,284.4 645.4,284.3 646.0,284.5 646.6,284.3 647.2,284.3 647.8,284.4 648.4,284.5 649.0,284.7 649.6,284.8 650.2,284.8 650.8,284.5 651.4,284.6 652.0,284.5 652.6,284.6 653.2,284.6 653.8,284.6 654.4,284.8 655.0,284.7 655.6,284.5 656.2,284.5 656.8,284.6 657.4,284.6 658.0,284.6 658.6,284.7 659.2,284.7 659.8,284.7 660.4,284.7 661.0,284.7 661.6,284.7 662.2,284.6 662.8,284.8 663.4,285.2 664.0,285.8 664.6,286.6 664.6,307.9 665.2,308.1 665.8,308.4 666.5,307.7 667.1,308.0 667.7,307.9 668.3,308.0 668.9,308.2 669.5,308.6 670.1,308.5 670.8,308.5 671.4,308.1 672.0,308.3" fill="none" stroke="#4ec41c" stroke-width="1.2" stroke-linejoin="round"/>
<polyline points="432.0,284.6 432.7,284.6 433.3,284.6 434.0,284.5 434.6,284.4 435.3,284.4 435.9,284.4 436.6,284.4 437.2,284.2 437.9,284.5 438.5,285.2 439.2,286.2 439.2,307.8 439.8,307.9 440.4,308.2 441.0,308.0 441.6,308.3 442.2,308.4 442.8,308.3 443.4,308.2 444.0,307.8 444.7,308.4 445.3,308.4 445.9,308.0 446.5,308.1 447.1,308.1 447.7,307.7 448.3,308.2 448.9,308.2 449.5,308.0 450.1,308.2 450.7,308.6 451.3,308.8 451.9,308.5 452.5,308.4 453.1,307.9 453.7,307.6 454.3,308.2 454.9,307.9 455.6,307.8 456.2,307.5 456.8,307.7 457.4,308.0 458.0,308.0 458.6,307.7 459.2,307.7 459.8,307.4 460.4,307.4 461.0,307.8 461.6,308.2 462.2,307.7 462.8,308.2 463.4,308.3 464.0,308.4 464.6,308.5 465.2,308.6 465.8,308.5 466.5,307.8 467.1,307.9 467.7,308.1 468.3,308.1 468.9,307.9 469.5,308.2 470.1,308.3 470.7,308.7 471.3,308.4 471.9,308.1 472.5,307.8 473.1,308.2 473.7,307.6 474.3,307.6 474.9,307.8 475.5,308.0 476.1,308.2 476.7,308.5 477.4,308.2 478.0,308.4 478.6,308.5 479.2,308.3 479.8,308.2 480.4,308.4 481.0,308.4 481.6,308.4 482.2,308.0 482.2,284.3 482.8,284.4 483.4,284.4 484.0,284.3 484.7,284.3 485.3,284.2 485.9,284.2 486.5,284.2 487.1,284.5 487.7,284.4 488.3,284.4 489.0,284.3 489.6,284.3 490.2,284.3 490.8,284.4 491.4,284.3 492.0,284.4 492.6,284.5 493.3,284.6 493.9,284.6 494.5,284.5 495.1,284.8 495.7,284.9 496.3,284.7 497.0,284.7 497.6,284.3 498.2,284.6 498.8,284.6 499.4,284.7 500.0,284.6 500.6,284.4 501.3,284.3 501.9,284.5 502.5,284.4 503.1,284.6 503.7,284.6 504.3,284.6 504.9,284.5 505.6,284.7 506.2,284.8 506.8,285.5 507.4,286.5 507.4,308.2 508.0,308.3 508.6,308.5 509.2,307.9 509.8,307.6 510.4,308.2 511.1,308.2 511.7,308.5 512.3,308.3 512.9,308.6 513.5,308.3 514.1,308.2 514.7,307.7 515.3,307.6 515.9,307.9 516.5,307.7 517.2,308.0 517.8,308.1 518.4,308.2 519.0,308.7 519.6,308.4 520.2,308.8 520.8,308.7 521.4,308.4 522.0,308.3 522.6,308.7 523.2,308.7 523.9,308.4 524.5,308.0 525.1,307.7 525.7,308.3 526.3,308.1 526.9,308.3 527.5,308.1 528.1,308.5 528.7,308.5 529.3,308.2 529.9,308.4 530.6,308.4 531.2,308.6 531.8,308.2 532.4,308.5 533.0,308.7 533.6,308.6 534.2,308.6 534.8,307.9 535.4,307.9 536.0,308.2 536.7,308.1 537.3,308.0 537.9,308.0 538.5,308.1 539.1,308.0 539.7,308.3 539.7,284.5 540.3,284.5 540.9,284.6 541.5,284.5 542.1,284.2 542.7,284.2 543.3,284.2 543.9,284.2 544.5,284.4 545.1,284.5 545.7,284.5 546.3,284.6 546.9,284.5 547.5,284.5 548.1,284.4 548.7,284.5 549.3,284.5 550.0,284.5 550.6,284.7 551.2,284.7 551.8,284.6 552.4,284.4 553.0,284.3 553.6,284.5 554.2,284.6 554.8,284.5 555.4,284.6 556.0,284.3 556.6,284.4 557.2,284.6 557.8,284.7 558.4,284.5 559.0,285.0 559.6,285.6 560.2,286.7 560.2,308.1 560.8,308.0 561.4,308.1 562.0,308.4 562.6,308.4 563.2,308.9 563.8,309.0 564.4,308.2 565.0,308.4 565.7,308.4 566.3,307.8 566.9,307.7 567.5,307.8 568.1,307.7 568.7,307.9 569.3,308.2 569.9,308.0 570.5,308.0 571.1,307.6 571.7,307.9 572.3,308.1 572.9,308.0 573.5,308.1 574.1,308.2 574.7,308.4 575.4,308.3 576.0,308.2 576.6,307.7 577.2,307.9 577.8,308.4 578.4,308.2 579.0,307.6 579.6,307.9 580.2,308.2 580.8,308.2 581.4,309.0 582.0,308.8 582.6,308.7 583.2,308.9 583.8,308.6 584.4,308.7 585.0,309.0 585.7,308.9 586.3,308.6 586.9,308.0 587.5,307.7 588.1,307.8 588.7,308.0 589.3,308.2 589.9,307.9 590.5,308.1 591.1,308.0 591.7,307.8 592.3,308.2 592.9,308.3 593.5,308.2 594.1,308.2 594.7,308.2 595.4,308.3 596.0,308.3 596.6,307.8 597.2,307.6 597.8,308.2 598.4,308.2 599.0,308.1 599.6,308.2 600.2,308.5 600.2,284.4 600.8,284.4 601.4,284.5 602.0,284.4 602.6,284.7 603.2,284.8 603.8,284.7 604.4,284.6 605.0,284.5 605.6,284.6 606.2,284.5 606.9,284.4 607.5,284.3 608.1,284.4 608.7,284.5 609.3,284.4 609.9,284.3 610.5,284.3 611.1,284.4 611.7,284.5 612.3,284.5 612.9,284.6 613.5,284.4 614.1,284.4 614.7,284.7 615.3,284.6 615.9,284.4 616.5,284.4 617.1,284.5 617.7,284.6 618.3,284.5 618.9,284.4 619.5,284.5 620.1,284.6 620.8,284.8 621.4,284.7 622.0,284.8 622.6,284.8 623.2,284.7 623.8,284.6 624.4,284.8 625.0,284.9 625.6,285.0 626.2,285.6 626.8,286.6 626.8,307.9 627.4,308.0 628.0,308.1 628.6,308.5 629.2,308.4 629.8,308.5 630.4,308.8 631.0,308.4 631.6,308.5 632.2,308.9 632.8,308.9 633.4,308.2 634.0,308.2 634.6,308.6 635.2,308.7 635.8,308.4 636.4,308.2 637.0,308.2 637.6,308.2 638.2,308.1 638.8,307.7 639.4,307.7 640.0,307.9 640.6,308.4 641.2,308.2 641.8,307.8 642.4,307.7 643.0,308.2 643.6,308.2 644.2,307.8 644.8,308.1 645.4,308.0 646.0,307.7 646.6,307.5 647.2,308.1 647.8,308.6 648.4,308.4 649.0,308.1 649.6,308.2 650.2,308.2 650.8,308.3 651.4,308.0 652.0,308.6 652.6,308.4 653.2,308.7 653.8,308.7 654.4,309.0 655.0,309.0 655.6,308.7 656.2,308.6 656.8,308.0 657.4,308.1 658.0,308.0 658.6,308.0 659.2,308.0 659.8,307.7 660.4,307.8 661.0,307.9 661.6,308.0 662.2,308.1 662.8,308.1 663.4,307.9 664.0,308.0 664.6,308.0 664.6,284.4 665.2,284.3 665.8,284.4 666.5,284.3 667.1,284.4 667.7,284.3 668.3,284.1 668.9,284.2 669.5,284.3 670.1,284.5 670.8,284.4 671.4,284.4 672.0,284.3" fill="none" stroke="#d02ab8" stroke-width="1.2" stroke-linejoin="round"/>
<line x1="432.00" y1="284.00" x2="432.00" y2="321.80" stroke="#444" stroke-width="1" />
<line x1="432.00" y1="284.00" x2="434.60" y2="284.00" stroke="#444" stroke-width="1" />
<line x1="432.00" y1="302.90" x2="434.60" y2="302.90" stroke="#444" stroke-width="1" />
<line x1="432.00" y1="321.80" x2="434.60" y2="321.80" stroke="#444" stroke-width="1" />
<text x="428.30" y="287.70" font-size="10.60" fill="#000" stroke="#000" stroke-width="0.1" text-anchor="end">1</text>
<text x="428.30" y="325.60" font-size="10.60" fill="#000" stroke="#000" stroke-width="0.1" text-anchor="end">0</text>
<text x="397.90" y="306.70" font-size="12.00" font-weight="normal" fill="#000" stroke="#000" stroke-width="0.1" textLength="22.93" lengthAdjust="spacingAndGlyphs">Rate</text>
<polyline points="531.3,326.6 531.3,333.4 571.5,333.4 571.5,326.6" fill="none" stroke="#555" stroke-width="1.2"/>
<text x="524.70" y="346.90" font-size="12.14" font-weight="normal" fill="#000" stroke="#000" stroke-width="0.1" textLength="53.61" lengthAdjust="spacingAndGlyphs">5 Seconds</text>
<text x="-0.60" y="374.80" font-size="17.43" font-weight="normal" fill="#000" stroke="#000" stroke-width="0.1" textLength="9.83" lengthAdjust="spacingAndGlyphs">C</text>
<rect x="110.00" y="640.34" width="1.35" height="6.86" fill="#a2e484"/>
<rect x="111.35" y="640.34" width="0.25" height="6.86" fill="#c4eeb0"/>
<rect x="111.60" y="628.35" width="1.35" height="18.85" fill="#a2e484"/>
<rect x="112.95" y="628.35" width="0.25" height="18.85" fill="#c4eeb0"/>
<rect x="113.20" y="619.78" width="1.35" height="27.42" fill="#a2e484"/>
<rect x="114.55" y="619.78" width="0.25" height="27.42" fill="#c4eeb0"/>
<rect x="114.80" y="606.06" width="1.35" height="41.14" fill="#a2e484"/>
<rect x="116.15" y="606.06" width="0.25" height="41.14" fill="#c4eeb0"/>
<rect x="116.40" y="589.61" width="1.35" height="57.59" fill="#a2e484"/>
<rect x="117.75" y="589.61" width="0.25" height="57.59" fill="#c4eeb0"/>
<rect x="118.00" y="574.36" width="1.35" height="72.84" fill="#a2e484"/>
<rect x="119.35" y="574.36" width="0.25" height="72.84" fill="#c4eeb0"/>
<rect x="119.60" y="558.93" width="1.35" height="88.27" fill="#a2e484"/>
<rect x="120.95" y="558.93" width="0.25" height="88.27" fill="#c4eeb0"/>
<rect x="121.20" y="544.87" width="1.35" height="102.33" fill="#a2e484"/>
<rect x="122.55" y="544.87" width="0.25" height="102.33" fill="#c4eeb0"/>
<rect x="122.80" y="534.59" width="1.35" height="112.61" fill="#a2e484"/>
<rect x="124.15" y="534.59" width="0.25" height="112.61" fill="#c4eeb0"/>
<rect x="124.40" y="525.51" width="1.35" height="121.69" fill="#a2e484"/>
<rect x="125.75" y="525.51" width="0.25" height="121.69" fill="#c4eeb0"/>
<rect x="126.00" y="518.31" width="1.35" height="128.89" fill="#a2e484"/>
<rect x="127.35" y="518.31" width="0.25" height="128.89" fill="#c4eeb0"/>
<rect x="127.60" y="514.37" width="1.35" height="132.84" fill="#a2e484"/>
<rect x="128.95" y="514.37" width="0.25" height="132.84" fill="#c4eeb0"/>
<rect x="129.20" y="515.91" width="1.35" height="131.29" fill="#a2e484"/>
<rect x="130.55" y="515.91" width="0.25" height="131.29" fill="#c4eeb0"/>
<rect x="130.80" y="518.31" width="1.35" height="128.89" fill="#a2e484"/>
<rect x="132.15" y="518.31" width="0.25" height="128.89" fill="#c4eeb0"/>
<rect x="132.40" y="535.79" width="1.35" height="111.41" fill="#a2e484"/>
<rect x="133.75" y="535.79" width="0.25" height="111.41" fill="#c4eeb0"/>
<rect x="134.00" y="547.79" width="1.35" height="99.41" fill="#a2e484"/>
<rect x="135.35" y="547.79" width="0.25" height="99.41" fill="#c4eeb0"/>
<rect x="135.60" y="562.19" width="1.35" height="85.01" fill="#a2e484"/>
<rect x="136.95" y="562.19" width="0.25" height="85.01" fill="#c4eeb0"/>
<rect x="137.20" y="575.21" width="1.35" height="71.99" fill="#a2e484"/>
<rect x="138.55" y="575.21" width="0.25" height="71.99" fill="#c4eeb0"/>
<rect x="138.80" y="586.52" width="1.35" height="60.68" fill="#a2e484"/>
<rect x="140.15" y="586.52" width="0.25" height="60.68" fill="#c4eeb0"/>
<rect x="140.40" y="598.69" width="1.35" height="48.51" fill="#a2e484"/>
<rect x="141.75" y="598.69" width="0.25" height="48.51" fill="#c4eeb0"/>
<rect x="142.00" y="611.89" width="1.35" height="35.31" fill="#a2e484"/>
<rect x="143.35" y="611.89" width="0.25" height="35.31" fill="#c4eeb0"/>
<rect x="143.60" y="623.20" width="1.35" height="24.00" fill="#a2e484"/>
<rect x="144.95" y="623.20" width="0.25" height="24.00" fill="#c4eeb0"/>
<rect x="145.20" y="634.35" width="1.35" height="12.86" fill="#a2e484"/>
<rect x="146.55" y="634.35" width="0.25" height="12.86" fill="#c4eeb0"/>
<rect x="146.80" y="640.34" width="1.35" height="6.86" fill="#a2e484"/>
<rect x="148.15" y="640.34" width="0.25" height="6.86" fill="#c4eeb0"/>
<rect x="148.40" y="644.46" width="1.35" height="2.74" fill="#a2e484"/>
<rect x="149.75" y="644.46" width="0.25" height="2.74" fill="#c4eeb0"/>
<g style="mix-blend-mode:multiply">
<rect x="85.60" y="641.89" width="1.35" height="5.31" fill="#e47ed8"/>
<rect x="86.95" y="641.89" width="0.25" height="5.31" fill="#f0b0ea"/>
<rect x="87.20" y="633.83" width="1.35" height="13.37" fill="#e47ed8"/>
<rect x="88.55" y="633.83" width="0.25" height="13.37" fill="#f0b0ea"/>
<rect x="88.80" y="618.23" width="1.35" height="28.97" fill="#e47ed8"/>
<rect x="90.15" y="618.23" width="0.25" height="28.97" fill="#f0b0ea"/>
<rect x="90.40" y="587.21" width="1.35" height="59.99" fill="#e47ed8"/>
<rect x="91.75" y="587.21" width="0.25" height="59.99" fill="#f0b0ea"/>
<rect x="92.00" y="552.93" width="1.35" height="94.27" fill="#e47ed8"/>
<rect x="93.35" y="552.93" width="0.25" height="94.27" fill="#f0b0ea"/>
<rect x="93.60" y="508.88" width="1.35" height="138.32" fill="#e47ed8"/>
<rect x="94.95" y="508.88" width="0.25" height="138.32" fill="#f0b0ea"/>
<rect x="95.20" y="462.95" width="1.35" height="184.25" fill="#e47ed8"/>
<rect x="96.55" y="462.95" width="0.25" height="184.25" fill="#f0b0ea"/>
<rect x="96.80" y="446.66" width="1.35" height="200.54" fill="#e47ed8"/>
<rect x="98.15" y="446.66" width="0.25" height="200.54" fill="#f0b0ea"/>
<rect x="98.40" y="436.89" width="1.35" height="210.31" fill="#e47ed8"/>
<rect x="99.75" y="436.89" width="0.25" height="210.31" fill="#f0b0ea"/>
<rect x="100.00" y="452.83" width="1.35" height="194.37" fill="#e47ed8"/>
<rect x="101.35" y="452.83" width="0.25" height="194.37" fill="#f0b0ea"/>
<rect x="101.60" y="462.95" width="1.35" height="184.25" fill="#e47ed8"/>
<rect x="102.95" y="462.95" width="0.25" height="184.25" fill="#f0b0ea"/>
<rect x="103.20" y="502.37" width="1.35" height="144.83" fill="#e47ed8"/>
<rect x="104.55" y="502.37" width="0.25" height="144.83" fill="#f0b0ea"/>
<rect x="104.80" y="535.10" width="1.35" height="112.10" fill="#e47ed8"/>
<rect x="106.15" y="535.10" width="0.25" height="112.10" fill="#f0b0ea"/>
<rect x="106.40" y="585.50" width="1.35" height="61.70" fill="#e47ed8"/>
<rect x="107.75" y="585.50" width="0.25" height="61.70" fill="#f0b0ea"/>
<rect x="108.00" y="609.49" width="1.35" height="37.71" fill="#e47ed8"/>
<rect x="109.35" y="609.49" width="0.25" height="37.71" fill="#f0b0ea"/>
<rect x="109.60" y="628.69" width="1.35" height="18.51" fill="#e47ed8"/>
<rect x="110.95" y="628.69" width="0.25" height="18.51" fill="#f0b0ea"/>
<rect x="111.20" y="640.34" width="1.35" height="6.86" fill="#e47ed8"/>
<rect x="112.55" y="640.34" width="0.25" height="6.86" fill="#f0b0ea"/>
<rect x="112.80" y="644.63" width="1.35" height="2.57" fill="#e47ed8"/>
<rect x="114.15" y="644.63" width="0.25" height="2.57" fill="#f0b0ea"/>
</g>
<line x1="46.50" y1="389.90" x2="46.50" y2="647.20" stroke="#555" stroke-width="1" />
<line x1="46.50" y1="647.20" x2="206.30" y2="647.20" stroke="#555" stroke-width="1" />
<line x1="46.50" y1="390.50" x2="52.10" y2="390.50" stroke="#555" stroke-width="1" />
<line x1="46.50" y1="476.20" x2="52.10" y2="476.20" stroke="#555" stroke-width="1" />
<line x1="46.50" y1="561.50" x2="52.10" y2="561.50" stroke="#555" stroke-width="1" />
<line x1="46.50" y1="647.20" x2="52.10" y2="647.20" stroke="#555" stroke-width="1" />
<line x1="46.40" y1="647.20" x2="46.40" y2="641.70" stroke="#555" stroke-width="1" />
<line x1="78.40" y1="647.20" x2="78.40" y2="641.70" stroke="#555" stroke-width="1" />
<line x1="110.50" y1="647.20" x2="110.50" y2="641.70" stroke="#555" stroke-width="1" />
<line x1="142.40" y1="647.20" x2="142.40" y2="641.70" stroke="#555" stroke-width="1" />
<line x1="174.40" y1="647.20" x2="174.40" y2="641.70" stroke="#555" stroke-width="1" />
<line x1="206.30" y1="647.20" x2="206.30" y2="641.70" stroke="#555" stroke-width="1" />
<text x="40.30" y="394.60" font-size="12.00" fill="#000" stroke="#000" stroke-width="0.1" text-anchor="end">15</text>
<text x="40.60" y="480.00" font-size="12.00" fill="#000" stroke="#000" stroke-width="0.1" text-anchor="end">10</text>
<text x="40.40" y="565.70" font-size="12.00" fill="#000" stroke="#000" stroke-width="0.1" text-anchor="end">5</text>
<text x="40.40" y="651.00" font-size="12.00" fill="#000" stroke="#000" stroke-width="0.1" text-anchor="end">0</text>
<text x="46.90" y="660.00" font-size="10.90" fill="#000" stroke="#000" stroke-width="0.1" text-anchor="middle">0</text>
<text x="78.30" y="660.00" font-size="10.90" fill="#000" stroke="#000" stroke-width="0.1" text-anchor="middle">2</text>
<text x="110.30" y="660.00" font-size="10.90" fill="#000" stroke="#000" stroke-width="0.1" text-anchor="middle">4</text>
<text x="142.40" y="660.00" font-size="10.90" fill="#000" stroke="#000" stroke-width="0.1" text-anchor="middle">6</text>
<text x="174.00" y="660.00" font-size="10.90" fill="#000" stroke="#000" stroke-width="0.1" text-anchor="middle">8</text>
<text x="206.30" y="660.00" font-size="10.90" fill="#000" stroke="#000" stroke-width="0.1" text-anchor="middle">10</text>
<text x="75.80" y="671.20" font-size="11.86" font-weight="normal" fill="#000" stroke="#000" stroke-width="0.1" textLength="101.11" lengthAdjust="spacingAndGlyphs">Duration (Seconds)</text>
<text transform="translate(24.90,548.60) rotate(-90)" x="0" y="0" font-size="12.14" font-weight="normal" fill="#000" stroke="#000" stroke-width="0.1" textLength="58.67" lengthAdjust="spacingAndGlyphs">% percepts</text>
<rect x="66.30" y="388.10" width="2.60" height="11.10" fill="#a2e484"/>
<rect x="66.30" y="402.00" width="2.60" height="11.60" fill="#e47ed8"/>
<text x="71.20" y="398.10" font-size="12.29" font-weight="normal" fill="#000" stroke="#000" stroke-width="0.1" textLength="97.52" lengthAdjust="spacingAndGlyphs">Preferred percepts</text>
<text x="71.20" y="412.30" font-size="12.29" font-weight="normal" fill="#000" stroke="#000" stroke-width="0.1" textLength="124.80" lengthAdjust="spacingAndGlyphs">Non-Preferred percepts</text>
<text x="209.90" y="374.70" font-size="15.57" font-weight="normal" fill="#000" stroke="#000" stroke-width="0.1" textLength="10.23" lengthAdjust="spacingAndGlyphs">D</text>
<text x="234.10" y="410.10" font-size="12.29" font-weight="normal" fill="#000" stroke="#000" stroke-width="0.1" textLength="28.32" lengthAdjust="spacingAndGlyphs">Prior</text>
<line x1="241.20" y1="414.30" x2="241.20" y2="460.50" stroke="#0000cc" stroke-width="2.5" />
<polygon points="234.80,460.00 247.60,460.00 241.20,470.80" fill="#0000cc"/>
<line x1="254.60" y1="470.80" x2="254.60" y2="426.00" stroke="#cc0000" stroke-width="2.5" />
<polygon points="247.80,426.50 261.40,426.50 254.60,414.90" fill="#cc0000"/>
<text x="222.10" y="483.10" font-size="12.29" font-weight="normal" fill="#000" stroke="#000" stroke-width="0.1" textLength="51.70" lengthAdjust="spacingAndGlyphs">Concept</text>
<text x="222.10" y="563.40" font-size="12.29" font-weight="normal" fill="#000" stroke="#000" stroke-width="0.1" textLength="52.30" lengthAdjust="spacingAndGlyphs">Concept</text>
<line x1="241.00" y1="566.80" x2="241.00" y2="612.50" stroke="#0000cc" stroke-width="2.5" />
<polygon points="234.70,612.00 247.30,612.00 241.00,622.50" fill="#0000cc"/>
<line x1="254.20" y1="623.30" x2="254.20" y2="578.10" stroke="#cc0000" stroke-width="2.5" />
<polygon points="247.30,578.60 261.10,578.60 254.20,567.30" fill="#cc0000"/>
<text x="224.00" y="636.40" font-size="12.29" font-weight="normal" fill="#000" stroke="#000" stroke-width="0.1" textLength="48.48" lengthAdjust="spacingAndGlyphs">Sensory</text>
<polygon points="349.70,494.00 351.30,487.00 352.40,478.00 353.10,468.00 353.50,463.40 353.90,468.00 354.60,478.00 355.70,487.00 357.40,494.00" fill="#a2e484" />
<polygon points="326.60,494.00 327.60,487.00 328.20,479.00 328.50,470.00 328.60,457.30 329.10,451.00 329.30,438.00 329.70,438.00 329.80,451.00 330.20,466.00 330.60,479.00 331.40,494.00" fill="#e47ed8" />
<line x1="304.40" y1="390.50" x2="304.40" y2="494.00" stroke="#555" stroke-width="1" />
<line x1="304.40" y1="494.00" x2="376.10" y2="494.00" stroke="#555" stroke-width="1" />
<line x1="304.40" y1="390.50" x2="308.00" y2="390.50" stroke="#555" stroke-width="1" />
<line x1="304.40" y1="425.30" x2="308.00" y2="425.30" stroke="#555" stroke-width="1" />
<line x1="304.40" y1="460.00" x2="308.00" y2="460.00" stroke="#555" stroke-width="1" />
<line x1="340.20" y1="494.00" x2="340.20" y2="491.20" stroke="#555" stroke-width="1" />
<line x1="376.10" y1="494.00" x2="376.10" y2="491.20" stroke="#555" stroke-width="1" />
<text x="286.90" y="394.40" font-size="12.00" font-weight="normal" fill="#000" stroke="#000" stroke-width="0.1" textLength="12.73" lengthAdjust="spacingAndGlyphs">60</text>
<text x="293.80" y="498.20" font-size="10.57" font-weight="normal" fill="#000" stroke="#000" stroke-width="0.1" textLength="5.21" lengthAdjust="spacingAndGlyphs">0</text>
<text x="301.10" y="505.40" font-size="10.57" font-weight="normal" fill="#000" stroke="#000" stroke-width="0.1" textLength="5.81" lengthAdjust="spacingAndGlyphs">0</text>
<text x="332.30" y="505.40" font-size="10.57" font-weight="normal" fill="#000" stroke="#000" stroke-width="0.1" textLength="14.90" lengthAdjust="spacingAndGlyphs">0.3</text>
<text x="368.20" y="505.40" font-size="10.57" font-weight="normal" fill="#000" stroke="#000" stroke-width="0.1" textLength="14.90" lengthAdjust="spacingAndGlyphs">0.6</text>
<text transform="translate(291.00,471.00) rotate(-90)" x="0" y="0" font-size="12.00" font-weight="normal" fill="#000" stroke="#000" stroke-width="0.1" textLength="58.27" lengthAdjust="spacingAndGlyphs">% percepts</text>
<text x="313.00" y="519.40" font-size="12.29" font-weight="normal" fill="#0000cc" stroke="#0000cc" stroke-width="0.1" textLength="53.92" lengthAdjust="spacingAndGlyphs">Prediction</text>
<rect x="438.55" y="407.00" width="0.60" height="87.00" fill="#c9f0b8"/>
<rect x="438.20" y="441.90" width="1.20" height="52.10" fill="#8edc6a"/>
<rect x="437.90" y="469.80" width="1.80" height="24.20" fill="#a2e484"/>
<rect x="437.30" y="486.50" width="3.00" height="7.50" fill="#a2e484"/>
<rect x="462.00" y="415.30" width="0.60" height="78.70" fill="#f3c0ee"/>
<rect x="461.70" y="439.00" width="1.20" height="55.00" fill="#e690dc"/>
<rect x="461.40" y="474.00" width="1.80" height="20.00" fill="#e47ed8"/>
<rect x="460.30" y="488.00" width="3.20" height="6.00" fill="#e47ed8"/>
<line x1="396.20" y1="390.50" x2="396.20" y2="494.00" stroke="#555" stroke-width="1" />
<line x1="396.20" y1="494.00" x2="468.30" y2="494.00" stroke="#555" stroke-width="1" />
<line x1="396.20" y1="390.50" x2="399.80" y2="390.50" stroke="#555" stroke-width="1" />
<line x1="396.20" y1="425.30" x2="399.80" y2="425.30" stroke="#555" stroke-width="1" />
<line x1="396.20" y1="460.00" x2="399.80" y2="460.00" stroke="#555" stroke-width="1" />
<line x1="432.30" y1="494.00" x2="432.30" y2="491.20" stroke="#555" stroke-width="1" />
<line x1="468.30" y1="494.00" x2="468.30" y2="491.20" stroke="#555" stroke-width="1" />
<text x="393.30" y="505.40" font-size="10.57" font-weight="normal" fill="#000" stroke="#000" stroke-width="0.1" textLength="5.61" lengthAdjust="spacingAndGlyphs">0</text>
<text x="424.90" y="505.40" font-size="10.57" font-weight="normal" fill="#000" stroke="#000" stroke-width="0.1" textLength="14.90" lengthAdjust="spacingAndGlyphs">0.3</text>
<text x="461.00" y="505.40" font-size="10.57" font-weight="normal" fill="#000" stroke="#000" stroke-width="0.1" textLength="14.90" lengthAdjust="spacingAndGlyphs">0.6</text>
<text x="405.50" y="519.00" font-size="12.29" font-weight="normal" fill="#cc0000" stroke="#cc0000" stroke-width="0.1" textLength="53.52" lengthAdjust="spacingAndGlyphs">Prediction</text>
<text x="419.40" y="534.70" font-size="12.29" font-weight="normal" fill="#cc0000" stroke="#cc0000" stroke-width="0.1" textLength="25.63" lengthAdjust="spacingAndGlyphs">Error</text>
<rect x="317.00" y="645.60" width="23.00" height="1.20" fill="#eec0e8"/>
<polygon points="350.60,646.80 352.80,623.20 354.20,594.70 355.30,575.00 355.60,573.10 355.90,575.00 357.30,594.70 359.20,623.20 362.50,646.80" fill="#a2e484" />
<polygon points="340.00,646.80 341.10,637.50 342.50,609.00 343.50,580.50 344.60,561.00 344.90,559.80 345.30,561.00 346.40,580.50 347.80,609.00 349.20,637.50 350.20,646.80" fill="#e47ed8" style="mix-blend-mode:multiply"/>
<line x1="304.40" y1="543.10" x2="304.40" y2="646.80" stroke="#555" stroke-width="1" />
<line x1="304.40" y1="646.80" x2="375.80" y2="646.80" stroke="#555" stroke-width="1" />
<line x1="304.40" y1="543.10" x2="308.00" y2="543.10" stroke="#555" stroke-width="1" />
<line x1="304.40" y1="577.50" x2="308.00" y2="577.50" stroke="#555" stroke-width="1" />
<line x1="304.40" y1="612.00" x2="308.00" y2="612.00" stroke="#555" stroke-width="1" />
<line x1="316.20" y1="646.80" x2="316.20" y2="644.00" stroke="#555" stroke-width="1" />
<line x1="340.10" y1="646.80" x2="340.10" y2="644.00" stroke="#555" stroke-width="1" />
<line x1="364.00" y1="646.80" x2="364.00" y2="644.00" stroke="#555" stroke-width="1" />
<text x="287.80" y="547.10" font-size="11.29" font-weight="normal" fill="#000" stroke="#000" stroke-width="0.1" textLength="12.33" lengthAdjust="spacingAndGlyphs">15</text>
<text x="294.00" y="650.60" font-size="10.57" font-weight="normal" fill="#000" stroke="#000" stroke-width="0.1" textLength="6.01" lengthAdjust="spacingAndGlyphs">0</text>
<text x="309.30" y="658.20" font-size="10.86" font-weight="normal" fill="#000" stroke="#000" stroke-width="0.1" textLength="14.50" lengthAdjust="spacingAndGlyphs">1.2</text>
<text x="356.10" y="658.20" font-size="10.86" font-weight="normal" fill="#000" stroke="#000" stroke-width="0.1" textLength="15.80" lengthAdjust="spacingAndGlyphs">1.6</text>
<text transform="translate(290.90,624.60) rotate(-90)" x="0" y="0" font-size="12.00" font-weight="normal" fill="#000" stroke="#000" stroke-width="0.1" textLength="58.87" lengthAdjust="spacingAndGlyphs">% percepts</text>
<text x="312.50" y="671.90" font-size="12.29" font-weight="normal" fill="#0000cc" stroke="#0000cc" stroke-width="0.1" textLength="54.62" lengthAdjust="spacingAndGlyphs">Prediction</text>
<polygon points="398.40,647.00 402.00,622.70 403.90,593.60 405.30,574.00 405.60,572.50 405.90,574.00 407.40,593.60 408.90,622.70 410.50,647.00" fill="#a2e484" />
<polygon points="407.80,647.00 409.70,622.70 410.70,593.60 412.20,558.00 412.50,556.10 412.80,558.00 414.70,593.60 415.80,622.70 418.00,647.00" fill="#e47ed8" style="mix-blend-mode:multiply"/>
<line x1="396.20" y1="543.30" x2="396.20" y2="647.00" stroke="#555" stroke-width="1" />
<line x1="396.20" y1="647.00" x2="468.30" y2="647.00" stroke="#555" stroke-width="1" />
<line x1="396.20" y1="543.30" x2="399.80" y2="543.30" stroke="#555" stroke-width="1" />
<line x1="396.20" y1="577.60" x2="399.80" y2="577.60" stroke="#555" stroke-width="1" />
<line x1="396.20" y1="612.50" x2="399.80" y2="612.50" stroke="#555" stroke-width="1" />
<line x1="409.40" y1="647.00" x2="409.40" y2="644.20" stroke="#555" stroke-width="1" />
<line x1="432.80" y1="647.00" x2="432.80" y2="644.20" stroke="#555" stroke-width="1" />
<line x1="456.40" y1="647.00" x2="456.40" y2="644.20" stroke="#555" stroke-width="1" />
<text x="401.80" y="657.80" font-size="10.86" font-weight="normal" fill="#000" stroke="#000" stroke-width="0.1" textLength="14.50" lengthAdjust="spacingAndGlyphs">1.2</text>
<text x="448.80" y="657.80" font-size="10.86" font-weight="normal" fill="#000" stroke="#000" stroke-width="0.1" textLength="15.00" lengthAdjust="spacingAndGlyphs">1.6</text>
<text x="405.20" y="671.80" font-size="12.29" font-weight="normal" fill="#cc0000" stroke="#cc0000" stroke-width="0.1" textLength="54.02" lengthAdjust="spacingAndGlyphs">Prediction</text>
<text x="419.50" y="687.20" font-size="12.29" font-weight="normal" fill="#cc0000" stroke="#cc0000" stroke-width="0.1" textLength="25.93" lengthAdjust="spacingAndGlyphs">Error</text>
<text x="485.40" y="374.50" font-size="15.00" font-weight="normal" fill="#000" stroke="#000" stroke-width="0.1" textLength="8.12" lengthAdjust="spacingAndGlyphs">E</text>
<text x="500.40" y="396.90" font-size="13.57" font-weight="normal" fill="#000" stroke="#000" stroke-width="0.1" textLength="62.81" lengthAdjust="spacingAndGlyphs">Preferred &gt;</text>
<text x="491.40" y="413.40" font-size="13.57" font-weight="normal" fill="#000" stroke="#000" stroke-width="0.1" textLength="79.92" lengthAdjust="spacingAndGlyphs">Non-Preferred</text>
<text x="594.90" y="396.50" font-size="13.57" font-weight="normal" fill="#000" stroke="#000" stroke-width="0.1" textLength="91.58" lengthAdjust="spacingAndGlyphs">Non-Preferred &gt;</text>
<text x="613.90" y="412.40" font-size="13.57" font-weight="normal" fill="#000" stroke="#000" stroke-width="0.1" textLength="51.68" lengthAdjust="spacingAndGlyphs">Preferred</text>
<line x1="531.50" y1="472.00" x2="531.50" y2="519.10" stroke="#0000cc" stroke-width="2.8" />
<polygon points="524.90,518.60 538.10,518.60 531.50,529.30" fill="#0000cc"/>
<line x1="531.50" y1="575.50" x2="531.50" y2="621.70" stroke="#0000cc" stroke-width="2.8" />
<polygon points="524.90,621.20 538.10,621.20 531.50,632.30" fill="#0000cc"/>
<line x1="639.50" y1="529.00" x2="639.50" y2="484.70" stroke="#cc0000" stroke-width="2.8" />
<polygon points="632.50,485.20 646.50,485.20 639.50,472.30" fill="#cc0000"/>
<line x1="639.50" y1="632.00" x2="639.50" y2="587.80" stroke="#cc0000" stroke-width="2.8" />
<polygon points="632.50,588.30 646.50,588.30 639.50,575.70" fill="#cc0000"/>
<ellipse cx="531.20" cy="449.10" rx="38.60" ry="22.90" fill="#fff" stroke="#000" stroke-width="1.5"/>
<ellipse cx="531.20" cy="552.50" rx="38.60" ry="22.90" fill="#fff" stroke="#000" stroke-width="1.5"/>
<ellipse cx="531.20" cy="655.70" rx="38.60" ry="22.90" fill="#fff" stroke="#000" stroke-width="1.5"/>
<ellipse cx="639.50" cy="449.10" rx="38.60" ry="22.90" fill="#fff" stroke="#000" stroke-width="1.5"/>
<ellipse cx="639.50" cy="552.50" rx="38.60" ry="22.90" fill="#fff" stroke="#000" stroke-width="1.5"/>
<ellipse cx="639.50" cy="655.70" rx="38.60" ry="22.90" fill="#fff" stroke="#000" stroke-width="1.5"/>
<text x="517.40" y="453.70" font-size="13.71" font-weight="normal" fill="#000" stroke="#000" stroke-width="0.1" textLength="28.42" lengthAdjust="spacingAndGlyphs">Prior</text>
<text x="505.80" y="556.50" font-size="13.71" font-weight="normal" fill="#000" stroke="#000" stroke-width="0.1" textLength="51.90" lengthAdjust="spacingAndGlyphs">Concept</text>
<text x="507.30" y="659.40" font-size="13.71" font-weight="normal" fill="#000" stroke="#000" stroke-width="0.1" textLength="48.68" lengthAdjust="spacingAndGlyphs">Sensory</text>
<text x="625.40" y="453.70" font-size="13.71" font-weight="normal" fill="#000" stroke="#000" stroke-width="0.1" textLength="28.42" lengthAdjust="spacingAndGlyphs">Prior</text>
<text x="613.80" y="556.50" font-size="13.71" font-weight="normal" fill="#000" stroke="#000" stroke-width="0.1" textLength="51.90" lengthAdjust="spacingAndGlyphs">Concept</text>
<text x="615.30" y="659.40" font-size="13.71" font-weight="normal" fill="#000" stroke="#000" stroke-width="0.1" textLength="48.68" lengthAdjust="spacingAndGlyphs">Sensory</text>
</svg>
</body></html>
